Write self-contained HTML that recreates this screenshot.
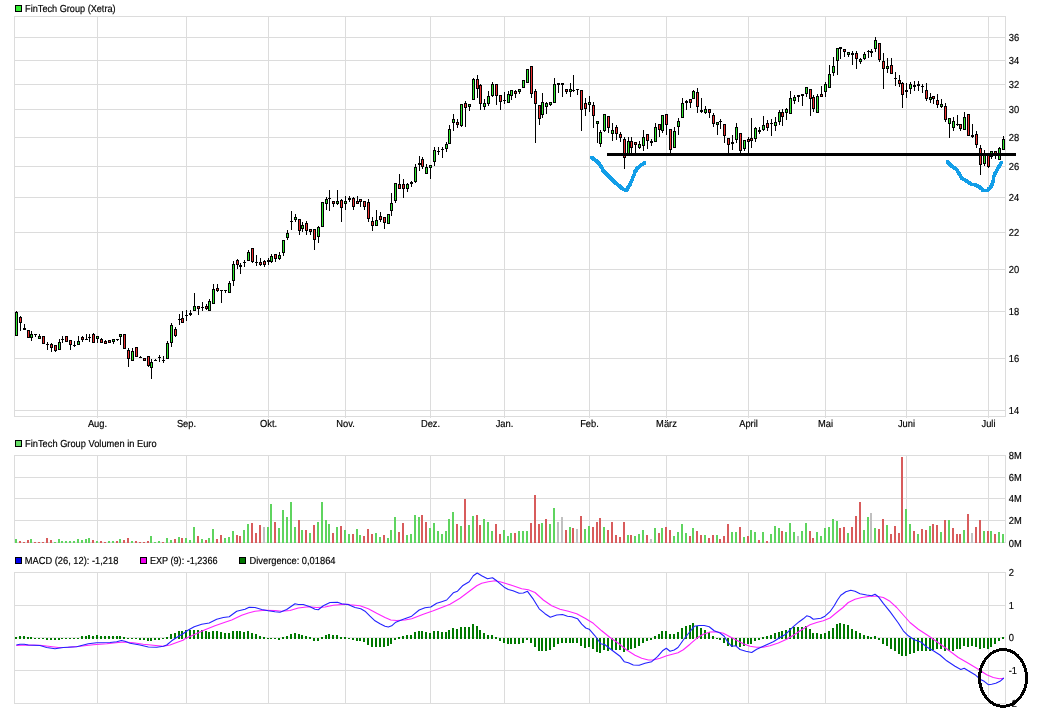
<!DOCTYPE html>
<html lang="de"><head><meta charset="utf-8"><title>FinTech Group (Xetra)</title>
<style>html,body{margin:0;padding:0;background:#fff}svg{display:block}text{stroke:#000;stroke-width:.18px}</style></head>
<body>
<svg width="1038" height="728" viewBox="0 0 1038 728" font-family="Liberation Sans, Arial, sans-serif" font-size="10.17px" fill="#000">
<rect width="1038" height="728" fill="#fff"/>
<g shape-rendering="crispEdges">
<rect x="14" y="37" width="992" height="1" fill="#dcdcdc"/>
<rect x="14" y="60" width="992" height="1" fill="#dcdcdc"/>
<rect x="14" y="84" width="992" height="1" fill="#dcdcdc"/>
<rect x="14" y="109" width="992" height="1" fill="#dcdcdc"/>
<rect x="14" y="137" width="992" height="1" fill="#dcdcdc"/>
<rect x="14" y="166" width="992" height="1" fill="#dcdcdc"/>
<rect x="14" y="197" width="992" height="1" fill="#dcdcdc"/>
<rect x="14" y="232" width="992" height="1" fill="#dcdcdc"/>
<rect x="14" y="269" width="992" height="1" fill="#dcdcdc"/>
<rect x="14" y="311" width="992" height="1" fill="#dcdcdc"/>
<rect x="14" y="358" width="992" height="1" fill="#dcdcdc"/>
<rect x="14" y="410" width="992" height="1" fill="#dcdcdc"/>
<rect x="14" y="16" width="992" height="1" fill="#dcdcdc"/>
<rect x="14" y="416" width="992" height="1" fill="#dcdcdc"/>
<rect x="97" y="16" width="1" height="402" fill="#dcdcdc"/>
<rect x="186" y="16" width="1" height="402" fill="#dcdcdc"/>
<rect x="268" y="16" width="1" height="402" fill="#dcdcdc"/>
<rect x="345" y="16" width="1" height="402" fill="#dcdcdc"/>
<rect x="430" y="16" width="1" height="402" fill="#dcdcdc"/>
<rect x="504" y="16" width="1" height="402" fill="#dcdcdc"/>
<rect x="589" y="16" width="1" height="402" fill="#dcdcdc"/>
<rect x="666" y="16" width="1" height="402" fill="#dcdcdc"/>
<rect x="748" y="16" width="1" height="402" fill="#dcdcdc"/>
<rect x="825" y="16" width="1" height="402" fill="#dcdcdc"/>
<rect x="906" y="16" width="1" height="402" fill="#dcdcdc"/>
<rect x="988" y="16" width="1" height="402" fill="#dcdcdc"/>
<rect x="14" y="16" width="1" height="401" fill="#dcdcdc"/>
<rect x="1005" y="16" width="1" height="401" fill="#dcdcdc"/>
<rect x="14" y="455" width="992" height="1" fill="#dcdcdc"/>
<rect x="14" y="477" width="992" height="1" fill="#dcdcdc"/>
<rect x="14" y="498" width="992" height="1" fill="#dcdcdc"/>
<rect x="14" y="520" width="992" height="1" fill="#dcdcdc"/>
<rect x="14" y="542" width="992" height="1" fill="#dcdcdc"/>
<rect x="97" y="455" width="1" height="88" fill="#dcdcdc"/>
<rect x="186" y="455" width="1" height="88" fill="#dcdcdc"/>
<rect x="268" y="455" width="1" height="88" fill="#dcdcdc"/>
<rect x="345" y="455" width="1" height="88" fill="#dcdcdc"/>
<rect x="430" y="455" width="1" height="88" fill="#dcdcdc"/>
<rect x="504" y="455" width="1" height="88" fill="#dcdcdc"/>
<rect x="589" y="455" width="1" height="88" fill="#dcdcdc"/>
<rect x="666" y="455" width="1" height="88" fill="#dcdcdc"/>
<rect x="748" y="455" width="1" height="88" fill="#dcdcdc"/>
<rect x="825" y="455" width="1" height="88" fill="#dcdcdc"/>
<rect x="906" y="455" width="1" height="88" fill="#dcdcdc"/>
<rect x="988" y="455" width="1" height="88" fill="#dcdcdc"/>
<rect x="14" y="455" width="1" height="88" fill="#dcdcdc"/>
<rect x="1005" y="455" width="1" height="88" fill="#dcdcdc"/>
<rect x="14" y="572" width="992" height="1" fill="#dcdcdc"/>
<rect x="14" y="605" width="992" height="1" fill="#dcdcdc"/>
<rect x="14" y="670" width="992" height="1" fill="#dcdcdc"/>
<rect x="14" y="703" width="992" height="1" fill="#dcdcdc"/>
<rect x="14" y="637" width="992" height="1" fill="#e6e6e6"/>
<rect x="97" y="572" width="1" height="132" fill="#dcdcdc"/>
<rect x="186" y="572" width="1" height="132" fill="#dcdcdc"/>
<rect x="268" y="572" width="1" height="132" fill="#dcdcdc"/>
<rect x="345" y="572" width="1" height="132" fill="#dcdcdc"/>
<rect x="430" y="572" width="1" height="132" fill="#dcdcdc"/>
<rect x="504" y="572" width="1" height="132" fill="#dcdcdc"/>
<rect x="589" y="572" width="1" height="132" fill="#dcdcdc"/>
<rect x="666" y="572" width="1" height="132" fill="#dcdcdc"/>
<rect x="748" y="572" width="1" height="132" fill="#dcdcdc"/>
<rect x="825" y="572" width="1" height="132" fill="#dcdcdc"/>
<rect x="906" y="572" width="1" height="132" fill="#dcdcdc"/>
<rect x="988" y="572" width="1" height="132" fill="#dcdcdc"/>
<rect x="14" y="572" width="1" height="132" fill="#dcdcdc"/>
<rect x="1005" y="572" width="1" height="132" fill="#dcdcdc"/>
</g>
<text transform="translate(1008.7 41) rotate(0.03) scale(0.92 1)" text-anchor="start">36</text>
<text transform="translate(1008.7 64) rotate(0.03) scale(0.92 1)" text-anchor="start">34</text>
<text transform="translate(1008.7 88) rotate(0.03) scale(0.92 1)" text-anchor="start">32</text>
<text transform="translate(1008.7 113) rotate(0.03) scale(0.92 1)" text-anchor="start">30</text>
<text transform="translate(1008.7 141) rotate(0.03) scale(0.92 1)" text-anchor="start">28</text>
<text transform="translate(1008.7 170) rotate(0.03) scale(0.92 1)" text-anchor="start">26</text>
<text transform="translate(1008.7 201) rotate(0.03) scale(0.92 1)" text-anchor="start">24</text>
<text transform="translate(1008.7 236) rotate(0.03) scale(0.92 1)" text-anchor="start">22</text>
<text transform="translate(1008.7 273) rotate(0.03) scale(0.92 1)" text-anchor="start">20</text>
<text transform="translate(1008.7 315) rotate(0.03) scale(0.92 1)" text-anchor="start">18</text>
<text transform="translate(1008.7 362) rotate(0.03) scale(0.92 1)" text-anchor="start">16</text>
<text transform="translate(1008.7 414) rotate(0.03) scale(0.92 1)" text-anchor="start">14</text>
<text transform="translate(1008.7 459) rotate(0.03) scale(0.92 1)" text-anchor="start">8M</text>
<text transform="translate(1008.7 481) rotate(0.03) scale(0.92 1)" text-anchor="start">6M</text>
<text transform="translate(1008.7 502) rotate(0.03) scale(0.92 1)" text-anchor="start">4M</text>
<text transform="translate(1008.7 524) rotate(0.03) scale(0.92 1)" text-anchor="start">2M</text>
<text transform="translate(1008.7 547) rotate(0.03) scale(0.92 1)" text-anchor="start">0M</text>
<text transform="translate(1008.7 576) rotate(0.03) scale(0.92 1)" text-anchor="start">2</text>
<text transform="translate(1008.7 609) rotate(0.03) scale(0.92 1)" text-anchor="start">1</text>
<text transform="translate(1008.7 641) rotate(0.03) scale(0.92 1)" text-anchor="start">0</text>
<text transform="translate(1008.7 674) rotate(0.03) scale(0.92 1)" text-anchor="start">-1</text>
<text transform="translate(1008.7 707) rotate(0.03) scale(0.92 1)" text-anchor="start">-2</text>
<text transform="translate(97.5 427) rotate(0.03) scale(0.92 1)" text-anchor="middle">Aug.</text>
<text transform="translate(186.5 427) rotate(0.03) scale(0.92 1)" text-anchor="middle">Sep.</text>
<text transform="translate(268.5 427) rotate(0.03) scale(0.92 1)" text-anchor="middle">Okt.</text>
<text transform="translate(345.5 427) rotate(0.03) scale(0.92 1)" text-anchor="middle">Nov.</text>
<text transform="translate(430.5 427) rotate(0.03) scale(0.92 1)" text-anchor="middle">Dez.</text>
<text transform="translate(504.5 427) rotate(0.03) scale(0.92 1)" text-anchor="middle">Jan.</text>
<text transform="translate(589.5 427) rotate(0.03) scale(0.92 1)" text-anchor="middle">Feb.</text>
<text transform="translate(666.5 427) rotate(0.03) scale(0.92 1)" text-anchor="middle">März</text>
<text transform="translate(748.5 427) rotate(0.03) scale(0.92 1)" text-anchor="middle">April</text>
<text transform="translate(825.5 427) rotate(0.03) scale(0.92 1)" text-anchor="middle">Mai</text>
<text transform="translate(906.5 427) rotate(0.03) scale(0.92 1)" text-anchor="middle">Juni</text>
<text transform="translate(988.5 427) rotate(0.03) scale(0.92 1)" text-anchor="middle">Juli</text>
<rect x="15.5" y="5.5" width="6" height="6" fill="#33ee33" stroke="#000" stroke-width="1" shape-rendering="crispEdges"/>
<text transform="translate(25.1 12) rotate(0.03)" text-anchor="start" textLength="90.5" lengthAdjust="spacingAndGlyphs">FinTech Group (Xetra)</text>
<rect x="15.5" y="440.5" width="6" height="6" fill="#66dd66" stroke="#000" stroke-width="1" shape-rendering="crispEdges"/>
<text transform="translate(25.1 447) rotate(0.03)" text-anchor="start" textLength="131.5" lengthAdjust="spacingAndGlyphs">FinTech Group Volumen in Euro</text>
<rect x="15.5" y="557.5" width="6" height="6" fill="#0000ee" stroke="#000" stroke-width="1" shape-rendering="crispEdges"/>
<text transform="translate(24.8 564) rotate(0.03)" text-anchor="start" textLength="93.5" lengthAdjust="spacingAndGlyphs">MACD (26, 12): -1,218</text>
<rect x="140.5" y="557.5" width="6" height="6" fill="#ee00ee" stroke="#000" stroke-width="1" shape-rendering="crispEdges"/>
<text transform="translate(150 564) rotate(0.03)" text-anchor="start" textLength="67.5" lengthAdjust="spacingAndGlyphs">EXP (9): -1,2366</text>
<rect x="239.5" y="557.5" width="6" height="6" fill="#007700" stroke="#000" stroke-width="1" shape-rendering="crispEdges"/>
<text transform="translate(249.5 564) rotate(0.03)" text-anchor="start" textLength="86" lengthAdjust="spacingAndGlyphs">Divergence: 0,01864</text>
<g shape-rendering="crispEdges">
<rect x="15" y="539" width="2" height="4" fill="#5fd45f"/>
<rect x="19" y="541" width="2" height="2" fill="#d85c5c"/>
<rect x="23" y="542" width="2" height="1" fill="#d85c5c"/>
<rect x="27" y="540" width="2" height="3" fill="#d85c5c"/>
<rect x="30" y="539" width="2" height="4" fill="#5fd45f"/>
<rect x="34" y="542" width="2" height="1" fill="#d85c5c"/>
<rect x="38" y="542" width="2" height="1" fill="#d85c5c"/>
<rect x="42" y="542" width="2" height="1" fill="#d85c5c"/>
<rect x="46" y="538" width="2" height="5" fill="#d85c5c"/>
<rect x="50" y="540" width="2" height="3" fill="#d85c5c"/>
<rect x="54" y="542" width="2" height="1" fill="#5fd45f"/>
<rect x="58" y="539" width="2" height="4" fill="#5fd45f"/>
<rect x="61" y="541" width="2" height="2" fill="#5fd45f"/>
<rect x="65" y="541" width="2" height="2" fill="#5fd45f"/>
<rect x="69" y="541" width="2" height="2" fill="#5fd45f"/>
<rect x="73" y="541" width="2" height="2" fill="#5fd45f"/>
<rect x="77" y="539" width="2" height="4" fill="#5fd45f"/>
<rect x="81" y="540" width="2" height="3" fill="#5fd45f"/>
<rect x="85" y="539" width="2" height="4" fill="#5fd45f"/>
<rect x="88" y="538" width="2" height="5" fill="#5fd45f"/>
<rect x="92" y="540" width="2" height="3" fill="#d85c5c"/>
<rect x="96" y="541" width="2" height="2" fill="#5fd45f"/>
<rect x="100" y="541" width="2" height="2" fill="#d85c5c"/>
<rect x="104" y="542" width="2" height="1" fill="#d85c5c"/>
<rect x="108" y="541" width="2" height="2" fill="#5fd45f"/>
<rect x="112" y="541" width="2" height="2" fill="#5fd45f"/>
<rect x="116" y="541" width="2" height="2" fill="#d85c5c"/>
<rect x="119" y="539" width="2" height="4" fill="#5fd45f"/>
<rect x="123" y="540" width="2" height="3" fill="#d85c5c"/>
<rect x="127" y="538" width="2" height="5" fill="#d85c5c"/>
<rect x="131" y="541" width="2" height="2" fill="#5fd45f"/>
<rect x="135" y="541" width="2" height="2" fill="#d85c5c"/>
<rect x="139" y="542" width="2" height="1" fill="#d85c5c"/>
<rect x="143" y="542" width="2" height="1" fill="#d85c5c"/>
<rect x="147" y="541" width="2" height="2" fill="#d85c5c"/>
<rect x="150" y="536" width="2" height="7" fill="#5fd45f"/>
<rect x="154" y="542" width="2" height="1" fill="#5fd45f"/>
<rect x="158" y="541" width="2" height="2" fill="#5fd45f"/>
<rect x="162" y="542" width="2" height="1" fill="#d85c5c"/>
<rect x="166" y="538" width="2" height="5" fill="#5fd45f"/>
<rect x="170" y="540" width="2" height="3" fill="#5fd45f"/>
<rect x="174" y="539" width="2" height="4" fill="#d85c5c"/>
<rect x="178" y="537" width="2" height="6" fill="#5fd45f"/>
<rect x="181" y="538" width="2" height="5" fill="#d85c5c"/>
<rect x="185" y="538" width="2" height="5" fill="#5fd45f"/>
<rect x="189" y="540" width="2" height="3" fill="#5fd45f"/>
<rect x="193" y="527" width="2" height="16" fill="#5fd45f"/>
<rect x="197" y="536" width="2" height="7" fill="#d85c5c"/>
<rect x="201" y="539" width="2" height="4" fill="#5fd45f"/>
<rect x="205" y="540" width="2" height="3" fill="#d85c5c"/>
<rect x="208" y="538" width="2" height="5" fill="#5fd45f"/>
<rect x="212" y="529" width="2" height="14" fill="#5fd45f"/>
<rect x="216" y="539" width="2" height="4" fill="#d85c5c"/>
<rect x="220" y="535" width="2" height="8" fill="#d85c5c"/>
<rect x="224" y="538" width="2" height="5" fill="#5fd45f"/>
<rect x="228" y="537" width="2" height="6" fill="#5fd45f"/>
<rect x="232" y="531" width="2" height="12" fill="#5fd45f"/>
<rect x="236" y="535" width="2" height="8" fill="#d85c5c"/>
<rect x="239" y="536" width="2" height="7" fill="#d85c5c"/>
<rect x="243" y="530" width="2" height="13" fill="#5fd45f"/>
<rect x="247" y="524" width="2" height="19" fill="#5fd45f"/>
<rect x="251" y="523" width="2" height="20" fill="#d85c5c"/>
<rect x="255" y="533" width="2" height="10" fill="#d85c5c"/>
<rect x="259" y="525" width="2" height="18" fill="#d85c5c"/>
<rect x="263" y="527" width="2" height="16" fill="#c0c0c0"/>
<rect x="267" y="527" width="2" height="16" fill="#5fd45f"/>
<rect x="270" y="504" width="2" height="39" fill="#5fd45f"/>
<rect x="274" y="522" width="2" height="21" fill="#d85c5c"/>
<rect x="278" y="528" width="2" height="15" fill="#5fd45f"/>
<rect x="282" y="510" width="2" height="33" fill="#5fd45f"/>
<rect x="286" y="517" width="2" height="26" fill="#5fd45f"/>
<rect x="290" y="502" width="2" height="41" fill="#5fd45f"/>
<rect x="294" y="527" width="2" height="16" fill="#5fd45f"/>
<rect x="298" y="520" width="2" height="23" fill="#d85c5c"/>
<rect x="301" y="530" width="2" height="13" fill="#5fd45f"/>
<rect x="305" y="530" width="2" height="13" fill="#d85c5c"/>
<rect x="309" y="533" width="2" height="10" fill="#5fd45f"/>
<rect x="313" y="525" width="2" height="18" fill="#d85c5c"/>
<rect x="317" y="522" width="2" height="21" fill="#5fd45f"/>
<rect x="321" y="502" width="2" height="41" fill="#5fd45f"/>
<rect x="325" y="520" width="2" height="23" fill="#5fd45f"/>
<rect x="328" y="524" width="2" height="19" fill="#5fd45f"/>
<rect x="332" y="533" width="2" height="10" fill="#d85c5c"/>
<rect x="336" y="527" width="2" height="16" fill="#5fd45f"/>
<rect x="340" y="526" width="2" height="17" fill="#d85c5c"/>
<rect x="344" y="530" width="2" height="13" fill="#5fd45f"/>
<rect x="348" y="534" width="2" height="9" fill="#5fd45f"/>
<rect x="352" y="534" width="2" height="9" fill="#d85c5c"/>
<rect x="356" y="529" width="2" height="14" fill="#5fd45f"/>
<rect x="359" y="535" width="2" height="8" fill="#5fd45f"/>
<rect x="363" y="536" width="2" height="7" fill="#d85c5c"/>
<rect x="367" y="529" width="2" height="14" fill="#d85c5c"/>
<rect x="371" y="534" width="2" height="9" fill="#d85c5c"/>
<rect x="375" y="533" width="2" height="10" fill="#5fd45f"/>
<rect x="379" y="537" width="2" height="6" fill="#5fd45f"/>
<rect x="383" y="535" width="2" height="8" fill="#d85c5c"/>
<rect x="387" y="538" width="2" height="5" fill="#5fd45f"/>
<rect x="390" y="530" width="2" height="13" fill="#5fd45f"/>
<rect x="394" y="517" width="2" height="26" fill="#5fd45f"/>
<rect x="398" y="532" width="2" height="11" fill="#d85c5c"/>
<rect x="402" y="523" width="2" height="20" fill="#d85c5c"/>
<rect x="406" y="535" width="2" height="8" fill="#5fd45f"/>
<rect x="410" y="534" width="2" height="9" fill="#5fd45f"/>
<rect x="414" y="515" width="2" height="28" fill="#5fd45f"/>
<rect x="418" y="517" width="2" height="26" fill="#5fd45f"/>
<rect x="421" y="515" width="2" height="28" fill="#d85c5c"/>
<rect x="425" y="522" width="2" height="21" fill="#d85c5c"/>
<rect x="429" y="528" width="2" height="15" fill="#5fd45f"/>
<rect x="433" y="523" width="2" height="20" fill="#5fd45f"/>
<rect x="437" y="531" width="2" height="12" fill="#5fd45f"/>
<rect x="441" y="534" width="2" height="9" fill="#5fd45f"/>
<rect x="445" y="531" width="2" height="12" fill="#5fd45f"/>
<rect x="448" y="519" width="2" height="24" fill="#5fd45f"/>
<rect x="452" y="512" width="2" height="31" fill="#5fd45f"/>
<rect x="456" y="524" width="2" height="19" fill="#d85c5c"/>
<rect x="460" y="526" width="2" height="17" fill="#5fd45f"/>
<rect x="464" y="499" width="2" height="44" fill="#d85c5c"/>
<rect x="468" y="525" width="2" height="18" fill="#5fd45f"/>
<rect x="472" y="516" width="2" height="27" fill="#5fd45f"/>
<rect x="476" y="515" width="2" height="28" fill="#d85c5c"/>
<rect x="479" y="525" width="2" height="18" fill="#d85c5c"/>
<rect x="483" y="519" width="2" height="24" fill="#5fd45f"/>
<rect x="487" y="522" width="2" height="21" fill="#5fd45f"/>
<rect x="491" y="531" width="2" height="12" fill="#5fd45f"/>
<rect x="495" y="524" width="2" height="19" fill="#d85c5c"/>
<rect x="499" y="534" width="2" height="9" fill="#d85c5c"/>
<rect x="503" y="530" width="2" height="13" fill="#5fd45f"/>
<rect x="507" y="536" width="2" height="7" fill="#5fd45f"/>
<rect x="510" y="533" width="2" height="10" fill="#5fd45f"/>
<rect x="514" y="533" width="2" height="10" fill="#d85c5c"/>
<rect x="518" y="531" width="2" height="12" fill="#5fd45f"/>
<rect x="522" y="531" width="2" height="12" fill="#5fd45f"/>
<rect x="526" y="531" width="2" height="12" fill="#5fd45f"/>
<rect x="530" y="523" width="2" height="20" fill="#d85c5c"/>
<rect x="534" y="495" width="2" height="48" fill="#d85c5c"/>
<rect x="538" y="524" width="2" height="19" fill="#d85c5c"/>
<rect x="541" y="523" width="2" height="20" fill="#5fd45f"/>
<rect x="545" y="519" width="2" height="24" fill="#d85c5c"/>
<rect x="549" y="524" width="2" height="19" fill="#5fd45f"/>
<rect x="553" y="508" width="2" height="35" fill="#5fd45f"/>
<rect x="557" y="522" width="2" height="21" fill="#c0c0c0"/>
<rect x="561" y="517" width="2" height="26" fill="#c0c0c0"/>
<rect x="565" y="530" width="2" height="13" fill="#d85c5c"/>
<rect x="569" y="527" width="2" height="16" fill="#5fd45f"/>
<rect x="572" y="528" width="2" height="15" fill="#d85c5c"/>
<rect x="576" y="529" width="2" height="14" fill="#c0c0c0"/>
<rect x="580" y="516" width="2" height="27" fill="#d85c5c"/>
<rect x="584" y="529" width="2" height="14" fill="#5fd45f"/>
<rect x="588" y="526" width="2" height="17" fill="#5fd45f"/>
<rect x="592" y="527" width="2" height="16" fill="#d85c5c"/>
<rect x="596" y="522" width="2" height="21" fill="#d85c5c"/>
<rect x="599" y="518" width="2" height="25" fill="#d85c5c"/>
<rect x="603" y="527" width="2" height="16" fill="#5fd45f"/>
<rect x="607" y="530" width="2" height="13" fill="#d85c5c"/>
<rect x="611" y="522" width="2" height="21" fill="#d85c5c"/>
<rect x="615" y="535" width="2" height="8" fill="#d85c5c"/>
<rect x="619" y="537" width="2" height="6" fill="#d85c5c"/>
<rect x="623" y="522" width="2" height="21" fill="#d85c5c"/>
<rect x="627" y="535" width="2" height="8" fill="#5fd45f"/>
<rect x="630" y="535" width="2" height="8" fill="#d85c5c"/>
<rect x="634" y="536" width="2" height="7" fill="#5fd45f"/>
<rect x="638" y="534" width="2" height="9" fill="#5fd45f"/>
<rect x="642" y="530" width="2" height="13" fill="#5fd45f"/>
<rect x="646" y="535" width="2" height="8" fill="#d85c5c"/>
<rect x="650" y="539" width="2" height="4" fill="#c0c0c0"/>
<rect x="654" y="528" width="2" height="15" fill="#5fd45f"/>
<rect x="658" y="533" width="2" height="10" fill="#d85c5c"/>
<rect x="661" y="528" width="2" height="15" fill="#5fd45f"/>
<rect x="665" y="527" width="2" height="16" fill="#d85c5c"/>
<rect x="669" y="530" width="2" height="13" fill="#d85c5c"/>
<rect x="673" y="536" width="2" height="7" fill="#5fd45f"/>
<rect x="677" y="532" width="2" height="11" fill="#5fd45f"/>
<rect x="681" y="524" width="2" height="19" fill="#5fd45f"/>
<rect x="685" y="533" width="2" height="10" fill="#5fd45f"/>
<rect x="689" y="536" width="2" height="7" fill="#d85c5c"/>
<rect x="692" y="528" width="2" height="15" fill="#5fd45f"/>
<rect x="696" y="531" width="2" height="12" fill="#d85c5c"/>
<rect x="700" y="535" width="2" height="8" fill="#d85c5c"/>
<rect x="704" y="535" width="2" height="8" fill="#5fd45f"/>
<rect x="708" y="538" width="2" height="5" fill="#d85c5c"/>
<rect x="712" y="535" width="2" height="8" fill="#d85c5c"/>
<rect x="716" y="535" width="2" height="8" fill="#5fd45f"/>
<rect x="719" y="539" width="2" height="4" fill="#d85c5c"/>
<rect x="723" y="536" width="2" height="7" fill="#d85c5c"/>
<rect x="727" y="524" width="2" height="19" fill="#d85c5c"/>
<rect x="731" y="532" width="2" height="11" fill="#5fd45f"/>
<rect x="735" y="532" width="2" height="11" fill="#5fd45f"/>
<rect x="739" y="527" width="2" height="16" fill="#d85c5c"/>
<rect x="743" y="537" width="2" height="6" fill="#5fd45f"/>
<rect x="747" y="536" width="2" height="7" fill="#d85c5c"/>
<rect x="750" y="530" width="2" height="13" fill="#5fd45f"/>
<rect x="754" y="532" width="2" height="11" fill="#5fd45f"/>
<rect x="758" y="540" width="2" height="3" fill="#d85c5c"/>
<rect x="762" y="532" width="2" height="11" fill="#5fd45f"/>
<rect x="766" y="541" width="2" height="2" fill="#d85c5c"/>
<rect x="770" y="534" width="2" height="9" fill="#5fd45f"/>
<rect x="774" y="526" width="2" height="17" fill="#5fd45f"/>
<rect x="778" y="528" width="2" height="15" fill="#5fd45f"/>
<rect x="781" y="531" width="2" height="12" fill="#d85c5c"/>
<rect x="785" y="532" width="2" height="11" fill="#5fd45f"/>
<rect x="789" y="523" width="2" height="20" fill="#5fd45f"/>
<rect x="793" y="532" width="2" height="11" fill="#5fd45f"/>
<rect x="797" y="536" width="2" height="7" fill="#c0c0c0"/>
<rect x="801" y="531" width="2" height="12" fill="#5fd45f"/>
<rect x="805" y="523" width="2" height="20" fill="#5fd45f"/>
<rect x="809" y="531" width="2" height="12" fill="#d85c5c"/>
<rect x="812" y="538" width="2" height="5" fill="#d85c5c"/>
<rect x="816" y="532" width="2" height="11" fill="#5fd45f"/>
<rect x="820" y="536" width="2" height="7" fill="#5fd45f"/>
<rect x="824" y="528" width="2" height="15" fill="#5fd45f"/>
<rect x="828" y="527" width="2" height="16" fill="#5fd45f"/>
<rect x="832" y="519" width="2" height="24" fill="#5fd45f"/>
<rect x="836" y="521" width="2" height="22" fill="#5fd45f"/>
<rect x="839" y="528" width="2" height="15" fill="#d85c5c"/>
<rect x="843" y="527" width="2" height="16" fill="#d85c5c"/>
<rect x="847" y="533" width="2" height="10" fill="#5fd45f"/>
<rect x="851" y="527" width="2" height="16" fill="#d85c5c"/>
<rect x="855" y="516" width="2" height="27" fill="#d85c5c"/>
<rect x="859" y="502" width="2" height="41" fill="#d85c5c"/>
<rect x="863" y="530" width="2" height="13" fill="#5fd45f"/>
<rect x="867" y="517" width="2" height="26" fill="#5fd45f"/>
<rect x="870" y="513" width="2" height="30" fill="#c0c0c0"/>
<rect x="874" y="528" width="2" height="15" fill="#5fd45f"/>
<rect x="878" y="529" width="2" height="14" fill="#d85c5c"/>
<rect x="882" y="519" width="2" height="24" fill="#d85c5c"/>
<rect x="886" y="525" width="2" height="18" fill="#5fd45f"/>
<rect x="890" y="534" width="2" height="9" fill="#d85c5c"/>
<rect x="894" y="526" width="2" height="17" fill="#d85c5c"/>
<rect x="898" y="533" width="2" height="10" fill="#d85c5c"/>
<rect x="901" y="457" width="2" height="86" fill="#d85c5c"/>
<rect x="905" y="509" width="2" height="34" fill="#5fd45f"/>
<rect x="909" y="524" width="2" height="19" fill="#5fd45f"/>
<rect x="913" y="531" width="2" height="12" fill="#d85c5c"/>
<rect x="917" y="534" width="2" height="9" fill="#5fd45f"/>
<rect x="921" y="529" width="2" height="14" fill="#d85c5c"/>
<rect x="925" y="530" width="2" height="13" fill="#d85c5c"/>
<rect x="929" y="526" width="2" height="17" fill="#5fd45f"/>
<rect x="932" y="524" width="2" height="19" fill="#d85c5c"/>
<rect x="936" y="525" width="2" height="18" fill="#d85c5c"/>
<rect x="940" y="532" width="2" height="11" fill="#5fd45f"/>
<rect x="944" y="520" width="2" height="23" fill="#d85c5c"/>
<rect x="948" y="520" width="2" height="23" fill="#5fd45f"/>
<rect x="952" y="528" width="2" height="15" fill="#d85c5c"/>
<rect x="956" y="534" width="2" height="9" fill="#d85c5c"/>
<rect x="959" y="534" width="2" height="9" fill="#d85c5c"/>
<rect x="963" y="530" width="2" height="13" fill="#5fd45f"/>
<rect x="967" y="514" width="2" height="29" fill="#d85c5c"/>
<rect x="971" y="533" width="2" height="10" fill="#c0c0c0"/>
<rect x="975" y="527" width="2" height="16" fill="#d85c5c"/>
<rect x="979" y="520" width="2" height="23" fill="#d85c5c"/>
<rect x="983" y="531" width="2" height="12" fill="#5fd45f"/>
<rect x="987" y="531" width="2" height="12" fill="#d85c5c"/>
<rect x="990" y="531" width="2" height="12" fill="#5fd45f"/>
<rect x="994" y="534" width="2" height="9" fill="#d85c5c"/>
<rect x="998" y="532" width="2" height="11" fill="#5fd45f"/>
<rect x="1002" y="534" width="2" height="9" fill="#5fd45f"/>
</g>
<g shape-rendering="crispEdges" fill="#007800">
<rect x="15" y="637" width="2" height="2"/>
<rect x="19" y="636" width="2" height="3"/>
<rect x="23" y="636" width="2" height="3"/>
<rect x="27" y="637" width="2" height="2"/>
<rect x="30" y="637" width="2" height="2"/>
<rect x="34" y="638" width="2" height="1"/>
<rect x="38" y="638" width="2" height="1"/>
<rect x="42" y="638" width="2" height="1"/>
<rect x="46" y="638" width="2" height="2"/>
<rect x="50" y="638" width="2" height="2"/>
<rect x="54" y="638" width="2" height="2"/>
<rect x="58" y="638" width="2" height="2"/>
<rect x="61" y="638" width="2" height="1"/>
<rect x="65" y="638" width="2" height="1"/>
<rect x="69" y="638" width="2" height="1"/>
<rect x="73" y="638" width="2" height="1"/>
<rect x="77" y="638" width="2" height="1"/>
<rect x="81" y="636" width="2" height="3"/>
<rect x="85" y="636" width="2" height="3"/>
<rect x="88" y="635" width="2" height="4"/>
<rect x="92" y="636" width="2" height="3"/>
<rect x="96" y="635" width="2" height="4"/>
<rect x="100" y="636" width="2" height="3"/>
<rect x="104" y="636" width="2" height="3"/>
<rect x="108" y="636" width="2" height="3"/>
<rect x="112" y="636" width="2" height="3"/>
<rect x="116" y="636" width="2" height="3"/>
<rect x="119" y="636" width="2" height="3"/>
<rect x="123" y="637" width="2" height="2"/>
<rect x="127" y="638" width="2" height="1"/>
<rect x="131" y="638" width="2" height="1"/>
<rect x="135" y="638" width="2" height="1"/>
<rect x="139" y="638" width="2" height="2"/>
<rect x="143" y="638" width="2" height="2"/>
<rect x="147" y="638" width="2" height="3"/>
<rect x="150" y="638" width="2" height="3"/>
<rect x="154" y="638" width="2" height="2"/>
<rect x="158" y="638" width="2" height="2"/>
<rect x="162" y="638" width="2" height="1"/>
<rect x="166" y="637" width="2" height="2"/>
<rect x="170" y="634" width="2" height="5"/>
<rect x="174" y="633" width="2" height="6"/>
<rect x="178" y="631" width="2" height="8"/>
<rect x="181" y="631" width="2" height="8"/>
<rect x="185" y="630" width="2" height="9"/>
<rect x="189" y="630" width="2" height="9"/>
<rect x="193" y="630" width="2" height="9"/>
<rect x="197" y="630" width="2" height="9"/>
<rect x="201" y="630" width="2" height="9"/>
<rect x="205" y="631" width="2" height="8"/>
<rect x="208" y="632" width="2" height="7"/>
<rect x="212" y="631" width="2" height="8"/>
<rect x="216" y="631" width="2" height="8"/>
<rect x="220" y="632" width="2" height="7"/>
<rect x="224" y="633" width="2" height="6"/>
<rect x="228" y="633" width="2" height="6"/>
<rect x="232" y="631" width="2" height="8"/>
<rect x="236" y="631" width="2" height="8"/>
<rect x="239" y="631" width="2" height="8"/>
<rect x="243" y="632" width="2" height="7"/>
<rect x="247" y="631" width="2" height="8"/>
<rect x="251" y="633" width="2" height="6"/>
<rect x="255" y="634" width="2" height="5"/>
<rect x="259" y="636" width="2" height="3"/>
<rect x="263" y="637" width="2" height="2"/>
<rect x="267" y="638" width="2" height="1"/>
<rect x="270" y="638" width="2" height="1"/>
<rect x="274" y="638" width="2" height="1"/>
<rect x="278" y="638" width="2" height="2"/>
<rect x="282" y="637" width="2" height="2"/>
<rect x="286" y="636" width="2" height="3"/>
<rect x="290" y="634" width="2" height="5"/>
<rect x="294" y="633" width="2" height="6"/>
<rect x="298" y="634" width="2" height="5"/>
<rect x="301" y="635" width="2" height="4"/>
<rect x="305" y="636" width="2" height="3"/>
<rect x="309" y="637" width="2" height="2"/>
<rect x="313" y="638" width="2" height="3"/>
<rect x="317" y="638" width="2" height="3"/>
<rect x="321" y="637" width="2" height="2"/>
<rect x="325" y="635" width="2" height="4"/>
<rect x="328" y="634" width="2" height="5"/>
<rect x="332" y="635" width="2" height="4"/>
<rect x="336" y="635" width="2" height="4"/>
<rect x="340" y="637" width="2" height="2"/>
<rect x="344" y="637" width="2" height="2"/>
<rect x="348" y="638" width="2" height="1"/>
<rect x="352" y="638" width="2" height="2"/>
<rect x="356" y="638" width="2" height="3"/>
<rect x="359" y="638" width="2" height="3"/>
<rect x="363" y="638" width="2" height="4"/>
<rect x="367" y="638" width="2" height="7"/>
<rect x="371" y="638" width="2" height="9"/>
<rect x="375" y="638" width="2" height="9"/>
<rect x="379" y="638" width="2" height="9"/>
<rect x="383" y="638" width="2" height="9"/>
<rect x="387" y="638" width="2" height="8"/>
<rect x="390" y="638" width="2" height="6"/>
<rect x="394" y="638" width="2" height="2"/>
<rect x="398" y="637" width="2" height="2"/>
<rect x="402" y="636" width="2" height="3"/>
<rect x="406" y="635" width="2" height="4"/>
<rect x="410" y="635" width="2" height="4"/>
<rect x="414" y="632" width="2" height="7"/>
<rect x="418" y="631" width="2" height="8"/>
<rect x="421" y="631" width="2" height="8"/>
<rect x="425" y="632" width="2" height="7"/>
<rect x="429" y="633" width="2" height="6"/>
<rect x="433" y="631" width="2" height="8"/>
<rect x="437" y="631" width="2" height="8"/>
<rect x="441" y="632" width="2" height="7"/>
<rect x="445" y="632" width="2" height="7"/>
<rect x="448" y="630" width="2" height="9"/>
<rect x="452" y="628" width="2" height="11"/>
<rect x="456" y="629" width="2" height="10"/>
<rect x="460" y="627" width="2" height="12"/>
<rect x="464" y="627" width="2" height="12"/>
<rect x="468" y="627" width="2" height="12"/>
<rect x="472" y="624" width="2" height="15"/>
<rect x="476" y="626" width="2" height="13"/>
<rect x="479" y="630" width="2" height="9"/>
<rect x="483" y="633" width="2" height="6"/>
<rect x="487" y="635" width="2" height="4"/>
<rect x="491" y="635" width="2" height="4"/>
<rect x="495" y="637" width="2" height="2"/>
<rect x="499" y="638" width="2" height="3"/>
<rect x="503" y="638" width="2" height="5"/>
<rect x="507" y="638" width="2" height="6"/>
<rect x="510" y="638" width="2" height="6"/>
<rect x="514" y="638" width="2" height="6"/>
<rect x="518" y="638" width="2" height="6"/>
<rect x="522" y="638" width="2" height="5"/>
<rect x="526" y="638" width="2" height="2"/>
<rect x="530" y="638" width="2" height="5"/>
<rect x="534" y="638" width="2" height="9"/>
<rect x="538" y="638" width="2" height="13"/>
<rect x="541" y="638" width="2" height="13"/>
<rect x="545" y="638" width="2" height="13"/>
<rect x="549" y="638" width="2" height="12"/>
<rect x="553" y="638" width="2" height="9"/>
<rect x="557" y="638" width="2" height="6"/>
<rect x="561" y="638" width="2" height="5"/>
<rect x="565" y="638" width="2" height="5"/>
<rect x="569" y="638" width="2" height="5"/>
<rect x="572" y="638" width="2" height="5"/>
<rect x="576" y="638" width="2" height="5"/>
<rect x="580" y="638" width="2" height="8"/>
<rect x="584" y="638" width="2" height="10"/>
<rect x="588" y="638" width="2" height="9"/>
<rect x="592" y="638" width="2" height="11"/>
<rect x="596" y="638" width="2" height="14"/>
<rect x="599" y="638" width="2" height="15"/>
<rect x="603" y="638" width="2" height="12"/>
<rect x="607" y="638" width="2" height="13"/>
<rect x="611" y="638" width="2" height="12"/>
<rect x="615" y="638" width="2" height="12"/>
<rect x="619" y="638" width="2" height="12"/>
<rect x="623" y="638" width="2" height="14"/>
<rect x="627" y="638" width="2" height="12"/>
<rect x="630" y="638" width="2" height="11"/>
<rect x="634" y="638" width="2" height="10"/>
<rect x="638" y="638" width="2" height="8"/>
<rect x="642" y="638" width="2" height="5"/>
<rect x="646" y="638" width="2" height="3"/>
<rect x="650" y="638" width="2" height="2"/>
<rect x="654" y="636" width="2" height="3"/>
<rect x="658" y="634" width="2" height="5"/>
<rect x="661" y="631" width="2" height="8"/>
<rect x="665" y="631" width="2" height="8"/>
<rect x="669" y="634" width="2" height="5"/>
<rect x="673" y="634" width="2" height="5"/>
<rect x="677" y="632" width="2" height="7"/>
<rect x="681" y="628" width="2" height="11"/>
<rect x="685" y="626" width="2" height="13"/>
<rect x="689" y="625" width="2" height="14"/>
<rect x="692" y="623" width="2" height="16"/>
<rect x="696" y="626" width="2" height="13"/>
<rect x="700" y="628" width="2" height="11"/>
<rect x="704" y="630" width="2" height="9"/>
<rect x="708" y="632" width="2" height="7"/>
<rect x="712" y="636" width="2" height="3"/>
<rect x="716" y="638" width="2" height="1"/>
<rect x="719" y="638" width="2" height="2"/>
<rect x="723" y="638" width="2" height="5"/>
<rect x="727" y="638" width="2" height="8"/>
<rect x="731" y="638" width="2" height="9"/>
<rect x="735" y="638" width="2" height="8"/>
<rect x="739" y="638" width="2" height="9"/>
<rect x="743" y="638" width="2" height="8"/>
<rect x="747" y="638" width="2" height="6"/>
<rect x="750" y="638" width="2" height="6"/>
<rect x="754" y="638" width="2" height="3"/>
<rect x="758" y="638" width="2" height="2"/>
<rect x="762" y="637" width="2" height="2"/>
<rect x="766" y="636" width="2" height="3"/>
<rect x="770" y="635" width="2" height="4"/>
<rect x="774" y="633" width="2" height="6"/>
<rect x="778" y="632" width="2" height="7"/>
<rect x="781" y="631" width="2" height="8"/>
<rect x="785" y="630" width="2" height="9"/>
<rect x="789" y="628" width="2" height="11"/>
<rect x="793" y="627" width="2" height="12"/>
<rect x="797" y="627" width="2" height="12"/>
<rect x="801" y="627" width="2" height="12"/>
<rect x="805" y="626" width="2" height="13"/>
<rect x="809" y="629" width="2" height="10"/>
<rect x="812" y="633" width="2" height="6"/>
<rect x="816" y="633" width="2" height="6"/>
<rect x="820" y="634" width="2" height="5"/>
<rect x="824" y="633" width="2" height="6"/>
<rect x="828" y="631" width="2" height="8"/>
<rect x="832" y="628" width="2" height="11"/>
<rect x="836" y="624" width="2" height="15"/>
<rect x="839" y="623" width="2" height="16"/>
<rect x="843" y="624" width="2" height="15"/>
<rect x="847" y="625" width="2" height="14"/>
<rect x="851" y="629" width="2" height="10"/>
<rect x="855" y="631" width="2" height="8"/>
<rect x="859" y="633" width="2" height="6"/>
<rect x="863" y="635" width="2" height="4"/>
<rect x="867" y="636" width="2" height="3"/>
<rect x="870" y="637" width="2" height="2"/>
<rect x="874" y="636" width="2" height="3"/>
<rect x="878" y="638" width="2" height="2"/>
<rect x="882" y="638" width="2" height="6"/>
<rect x="886" y="638" width="2" height="8"/>
<rect x="890" y="638" width="2" height="11"/>
<rect x="894" y="638" width="2" height="13"/>
<rect x="898" y="638" width="2" height="16"/>
<rect x="901" y="638" width="2" height="18"/>
<rect x="905" y="638" width="2" height="18"/>
<rect x="909" y="638" width="2" height="16"/>
<rect x="913" y="638" width="2" height="15"/>
<rect x="917" y="638" width="2" height="13"/>
<rect x="921" y="638" width="2" height="13"/>
<rect x="925" y="638" width="2" height="13"/>
<rect x="929" y="638" width="2" height="13"/>
<rect x="932" y="638" width="2" height="12"/>
<rect x="936" y="638" width="2" height="11"/>
<rect x="940" y="638" width="2" height="11"/>
<rect x="944" y="638" width="2" height="13"/>
<rect x="948" y="638" width="2" height="13"/>
<rect x="952" y="638" width="2" height="13"/>
<rect x="956" y="638" width="2" height="11"/>
<rect x="959" y="638" width="2" height="11"/>
<rect x="963" y="638" width="2" height="8"/>
<rect x="967" y="638" width="2" height="9"/>
<rect x="971" y="638" width="2" height="8"/>
<rect x="975" y="638" width="2" height="9"/>
<rect x="979" y="638" width="2" height="11"/>
<rect x="983" y="638" width="2" height="10"/>
<rect x="987" y="638" width="2" height="11"/>
<rect x="990" y="638" width="2" height="9"/>
<rect x="994" y="638" width="2" height="6"/>
<rect x="998" y="638" width="2" height="3"/>
<rect x="1002" y="637" width="2" height="2"/>
</g>
<polyline points="16.3,645.5 26.7,645.0 40.0,645.3 48.3,646.3 58.3,647.5 68.3,647.2 80.0,646.3 93.3,644.7 106.7,643.7 118.3,642.5 125.0,642.0 133.3,642.8 143.3,644.2 153.3,645.3 163.3,646.2 170.0,645.0 176.7,642.5 183.0,640.3 185.0,638.7 195.0,634.2 205.0,629.7 215.0,625.8 225.0,622.2 231.7,620.0 241.7,615.3 248.3,613.0 255.0,611.2 265.0,610.3 275.0,610.5 281.7,611.2 290.0,610.5 298.3,608.0 308.3,606.7 316.7,607.5 325.0,607.0 333.3,605.3 341.7,604.5 348.0,604.2 350.0,604.7 360.0,605.8 368.3,608.7 376.7,613.3 385.0,617.5 390.8,620.0 396.7,620.5 405.0,620.0 411.7,618.7 423.3,614.2 433.3,610.8 441.7,607.5 450.0,604.2 460.0,598.3 470.0,590.8 476.7,585.8 481.7,583.3 488.3,581.7 495.0,580.8 500.0,581.7 506.7,583.7 513.0,585.8 521.7,588.7 528.3,589.7 535.0,592.5 543.3,600.0 551.7,605.8 560.0,609.2 568.3,611.3 576.7,613.7 585.0,618.3 593.3,623.3 601.7,630.8 610.0,637.5 618.3,643.3 626.7,650.0 635.0,655.3 641.7,658.3 648.3,660.0 653.3,660.0 660.0,658.3 666.7,655.8 678.0,652.8 683.3,649.7 690.0,644.2 696.7,638.3 703.3,634.2 710.0,632.0 716.7,631.7 723.3,633.3 730.0,636.7 736.7,640.3 743.3,643.7 750.0,646.2 756.7,647.2 763.3,647.2 770.0,645.8 778.3,643.0 786.7,639.2 795.0,634.2 803.3,628.7 810.0,624.7 816.7,622.5 823.3,620.8 830.0,618.0 836.7,612.5 843.0,607.5 848.3,602.5 855.0,599.2 861.7,597.5 870.0,596.3 876.7,596.2 883.3,597.5 890.0,601.3 896.7,607.5 903.3,615.0 910.0,622.5 918.3,629.2 928.3,635.8 938.3,642.8 948.3,650.0 958.3,657.5 968.3,663.3 978.3,669.2 986.7,674.7 993.3,677.5 999.2,678.8 1003.8,678.3" fill="none" stroke="#ff22ff" stroke-width="1.1" stroke-linejoin="round"/>
<polyline points="16.3,645.0 20.0,644.2 24.2,644.2 28.3,645.0 40.0,645.5 46.7,647.5 55.0,648.8 63.3,647.5 76.7,646.7 88.3,643.8 96.7,642.8 110.0,642.5 116.7,641.7 121.3,640.5 125.0,641.3 130.0,643.3 140.0,645.0 148.3,647.0 156.7,647.2 163.3,646.3 166.7,645.0 171.7,640.8 176.7,637.5 183.0,633.7 188.3,630.0 194.2,626.7 201.7,624.2 209.2,623.0 216.7,619.2 223.3,617.5 229.2,616.7 236.7,611.3 245.0,609.2 249.2,607.2 255.0,607.5 261.7,609.5 268.3,610.8 275.0,611.7 280.0,612.2 286.7,609.5 295.0,603.8 298.3,604.5 303.3,604.5 310.0,606.7 315.0,609.2 318.3,609.7 323.3,605.8 330.0,602.5 337.5,602.2 341.7,603.8 348.0,604.5 355.0,607.5 360.8,608.8 365.0,611.2 370.0,616.2 375.0,620.8 380.0,623.7 385.0,626.3 388.3,627.0 391.7,625.8 395.8,622.2 403.3,619.2 411.7,616.2 419.2,610.0 425.0,607.8 430.8,607.0 436.7,603.3 441.7,601.7 446.7,600.0 453.3,592.8 457.5,591.2 462.5,585.8 469.2,581.7 473.3,575.8 477.2,573.0 481.7,575.8 487.5,578.7 492.5,577.8 496.7,580.8 504.2,587.2 508.3,589.5 513.0,590.8 519.2,593.3 523.3,593.0 527.5,591.3 533.3,599.2 539.2,608.8 545.0,613.7 550.3,617.2 556.7,615.0 562.5,614.5 567.5,616.2 571.7,616.7 577.5,618.7 581.7,624.2 585.8,628.0 589.2,629.2 595.0,635.8 600.8,643.8 605.0,644.7 611.7,650.0 620.0,656.2 624.2,661.7 628.3,662.8 633.3,665.0 639.2,665.3 645.0,663.3 651.7,661.7 657.5,656.7 662.5,650.8 666.3,648.3 670.0,651.3 674.2,650.0 678.0,647.5 683.3,640.0 689.2,632.5 694.2,626.3 699.2,625.5 704.2,625.5 709.2,626.7 714.2,630.8 720.0,633.0 724.2,636.3 727.5,641.7 731.7,646.3 735.8,645.8 740.0,649.5 745.8,651.3 751.7,652.5 756.7,649.2 763.3,646.2 773.3,641.7 780.0,637.5 785.8,634.2 793.3,626.7 799.2,621.7 803.3,618.8 806.7,615.8 810.0,616.7 813.3,619.2 820.8,618.3 825.0,616.2 830.0,611.7 834.2,605.8 837.5,600.0 840.8,595.3 843.0,593.8 845.8,591.7 850.8,590.3 855.0,591.3 860.0,593.7 866.7,595.0 871.7,595.8 875.0,594.2 878.3,596.7 883.3,603.3 890.0,611.7 898.3,623.0 903.3,630.8 908.3,635.8 914.2,639.7 920.8,642.0 926.7,647.0 933.3,650.8 940.0,655.0 946.7,660.8 955.0,666.3 960.8,669.5 964.2,668.3 968.3,670.8 975.0,674.7 980.0,679.2 984.2,681.3 988.3,684.7 991.7,684.2 995.8,683.3 1000.0,681.3 1003.8,678.0" fill="none" stroke="#2222ff" stroke-width="1.1" stroke-linejoin="round"/>
<g shape-rendering="crispEdges">
<rect x="16" y="311" width="1" height="25" fill="#000"/>
<rect x="15" y="312" width="3" height="24" fill="#000"/>
<rect x="16" y="313" width="1" height="22" fill="#2ee62e"/>
<rect x="20" y="316" width="1" height="15" fill="#000"/>
<rect x="19" y="317" width="3" height="6" fill="#000"/>
<rect x="20" y="318" width="1" height="4" fill="#ee3030"/>
<rect x="24" y="324" width="1" height="6" fill="#000"/>
<rect x="23" y="328" width="3" height="2" fill="#000"/>
<rect x="28" y="330" width="1" height="8" fill="#000"/>
<rect x="27" y="330" width="3" height="8" fill="#000"/>
<rect x="28" y="331" width="1" height="6" fill="#ee3030"/>
<rect x="31" y="331" width="1" height="10" fill="#000"/>
<rect x="30" y="334" width="3" height="4" fill="#000"/>
<rect x="31" y="335" width="1" height="2" fill="#2ee62e"/>
<rect x="35" y="334" width="1" height="3" fill="#000"/>
<rect x="34" y="334" width="3" height="1" fill="#000"/>
<rect x="39" y="334" width="1" height="5" fill="#000"/>
<rect x="38" y="336" width="3" height="3" fill="#000"/>
<rect x="39" y="337" width="1" height="1" fill="#2ee62e"/>
<rect x="43" y="336" width="1" height="8" fill="#000"/>
<rect x="42" y="336" width="3" height="8" fill="#000"/>
<rect x="43" y="337" width="1" height="6" fill="#ee3030"/>
<rect x="47" y="342" width="1" height="8" fill="#000"/>
<rect x="46" y="344" width="3" height="1" fill="#000"/>
<rect x="51" y="343" width="1" height="9" fill="#000"/>
<rect x="50" y="344" width="3" height="4" fill="#000"/>
<rect x="51" y="345" width="1" height="2" fill="#ee3030"/>
<rect x="55" y="345" width="1" height="7" fill="#000"/>
<rect x="54" y="345" width="3" height="6" fill="#000"/>
<rect x="55" y="346" width="1" height="4" fill="#ee3030"/>
<rect x="59" y="339" width="1" height="11" fill="#000"/>
<rect x="58" y="342" width="3" height="8" fill="#000"/>
<rect x="59" y="343" width="1" height="6" fill="#2ee62e"/>
<rect x="62" y="336" width="1" height="7" fill="#000"/>
<rect x="61" y="339" width="3" height="1" fill="#000"/>
<rect x="66" y="336" width="1" height="6" fill="#000"/>
<rect x="65" y="336" width="3" height="6" fill="#000"/>
<rect x="66" y="337" width="1" height="4" fill="#ee3030"/>
<rect x="70" y="340" width="1" height="10" fill="#000"/>
<rect x="69" y="340" width="3" height="5" fill="#000"/>
<rect x="70" y="341" width="1" height="3" fill="#ee3030"/>
<rect x="74" y="341" width="1" height="6" fill="#000"/>
<rect x="73" y="345" width="3" height="1" fill="#000"/>
<rect x="78" y="336" width="1" height="9" fill="#000"/>
<rect x="77" y="341" width="3" height="4" fill="#000"/>
<rect x="78" y="342" width="1" height="2" fill="#2ee62e"/>
<rect x="82" y="336" width="1" height="6" fill="#000"/>
<rect x="81" y="337" width="3" height="3" fill="#000"/>
<rect x="82" y="338" width="1" height="1" fill="#ee3030"/>
<rect x="86" y="334" width="1" height="6" fill="#000"/>
<rect x="85" y="339" width="3" height="1" fill="#000"/>
<rect x="89" y="334" width="1" height="8" fill="#000"/>
<rect x="88" y="337" width="3" height="1" fill="#000"/>
<rect x="93" y="333" width="1" height="10" fill="#000"/>
<rect x="92" y="334" width="3" height="9" fill="#000"/>
<rect x="93" y="335" width="1" height="7" fill="#ee3030"/>
<rect x="97" y="336" width="1" height="7" fill="#000"/>
<rect x="96" y="336" width="3" height="3" fill="#000"/>
<rect x="97" y="337" width="1" height="1" fill="#2ee62e"/>
<rect x="101" y="338" width="1" height="5" fill="#000"/>
<rect x="100" y="339" width="3" height="4" fill="#000"/>
<rect x="101" y="340" width="1" height="2" fill="#ee3030"/>
<rect x="105" y="340" width="1" height="4" fill="#000"/>
<rect x="104" y="341" width="3" height="3" fill="#000"/>
<rect x="105" y="342" width="1" height="1" fill="#ee3030"/>
<rect x="109" y="340" width="1" height="3" fill="#000"/>
<rect x="108" y="340" width="3" height="3" fill="#000"/>
<rect x="109" y="341" width="1" height="1" fill="#ee3030"/>
<rect x="113" y="339" width="1" height="5" fill="#000"/>
<rect x="112" y="339" width="3" height="3" fill="#000"/>
<rect x="113" y="340" width="1" height="1" fill="#2ee62e"/>
<rect x="117" y="339" width="1" height="2" fill="#000"/>
<rect x="116" y="339" width="3" height="1" fill="#000"/>
<rect x="120" y="334" width="1" height="11" fill="#000"/>
<rect x="119" y="334" width="3" height="3" fill="#000"/>
<rect x="120" y="335" width="1" height="1" fill="#2ee62e"/>
<rect x="124" y="334" width="1" height="15" fill="#000"/>
<rect x="123" y="334" width="3" height="15" fill="#000"/>
<rect x="124" y="335" width="1" height="13" fill="#ee3030"/>
<rect x="128" y="348" width="1" height="19" fill="#000"/>
<rect x="127" y="350" width="3" height="9" fill="#000"/>
<rect x="128" y="351" width="1" height="7" fill="#ee3030"/>
<rect x="132" y="348" width="1" height="13" fill="#000"/>
<rect x="131" y="351" width="3" height="10" fill="#000"/>
<rect x="132" y="352" width="1" height="8" fill="#2ee62e"/>
<rect x="136" y="347" width="1" height="10" fill="#000"/>
<rect x="135" y="347" width="3" height="10" fill="#000"/>
<rect x="136" y="348" width="1" height="8" fill="#ee3030"/>
<rect x="140" y="356" width="1" height="2" fill="#000"/>
<rect x="139" y="357" width="3" height="1" fill="#000"/>
<rect x="144" y="358" width="1" height="3" fill="#000"/>
<rect x="143" y="358" width="3" height="3" fill="#000"/>
<rect x="144" y="359" width="1" height="1" fill="#ee3030"/>
<rect x="148" y="356" width="1" height="11" fill="#000"/>
<rect x="147" y="356" width="3" height="10" fill="#000"/>
<rect x="148" y="357" width="1" height="8" fill="#ee3030"/>
<rect x="151" y="359" width="1" height="20" fill="#000"/>
<rect x="150" y="362" width="3" height="6" fill="#000"/>
<rect x="151" y="363" width="1" height="4" fill="#2ee62e"/>
<rect x="155" y="359" width="1" height="2" fill="#000"/>
<rect x="154" y="360" width="3" height="1" fill="#000"/>
<rect x="159" y="355" width="1" height="7" fill="#000"/>
<rect x="158" y="357" width="3" height="1" fill="#000"/>
<rect x="163" y="356" width="1" height="7" fill="#000"/>
<rect x="162" y="360" width="3" height="1" fill="#000"/>
<rect x="167" y="341" width="1" height="18" fill="#000"/>
<rect x="166" y="343" width="3" height="16" fill="#000"/>
<rect x="167" y="344" width="1" height="14" fill="#2ee62e"/>
<rect x="171" y="323" width="1" height="24" fill="#000"/>
<rect x="170" y="325" width="3" height="18" fill="#000"/>
<rect x="171" y="326" width="1" height="16" fill="#2ee62e"/>
<rect x="175" y="327" width="1" height="10" fill="#000"/>
<rect x="174" y="329" width="3" height="7" fill="#000"/>
<rect x="175" y="330" width="1" height="5" fill="#ee3030"/>
<rect x="179" y="314" width="1" height="11" fill="#000"/>
<rect x="178" y="319" width="3" height="1" fill="#000"/>
<rect x="182" y="311" width="1" height="12" fill="#000"/>
<rect x="181" y="318" width="3" height="5" fill="#000"/>
<rect x="182" y="319" width="1" height="3" fill="#ee3030"/>
<rect x="186" y="310" width="1" height="11" fill="#000"/>
<rect x="185" y="315" width="3" height="1" fill="#000"/>
<rect x="190" y="310" width="1" height="6" fill="#000"/>
<rect x="189" y="313" width="3" height="2" fill="#000"/>
<rect x="194" y="293" width="1" height="18" fill="#000"/>
<rect x="193" y="306" width="3" height="5" fill="#000"/>
<rect x="194" y="307" width="1" height="3" fill="#2ee62e"/>
<rect x="198" y="306" width="1" height="9" fill="#000"/>
<rect x="197" y="306" width="3" height="3" fill="#000"/>
<rect x="198" y="307" width="1" height="1" fill="#ee3030"/>
<rect x="202" y="302" width="1" height="9" fill="#000"/>
<rect x="201" y="307" width="3" height="1" fill="#000"/>
<rect x="206" y="304" width="1" height="6" fill="#000"/>
<rect x="205" y="306" width="3" height="3" fill="#000"/>
<rect x="206" y="307" width="1" height="1" fill="#ee3030"/>
<rect x="209" y="299" width="1" height="12" fill="#000"/>
<rect x="208" y="301" width="3" height="10" fill="#000"/>
<rect x="209" y="302" width="1" height="8" fill="#2ee62e"/>
<rect x="213" y="284" width="1" height="20" fill="#000"/>
<rect x="212" y="289" width="3" height="15" fill="#000"/>
<rect x="213" y="290" width="1" height="13" fill="#2ee62e"/>
<rect x="217" y="284" width="1" height="8" fill="#000"/>
<rect x="216" y="288" width="3" height="3" fill="#000"/>
<rect x="217" y="289" width="1" height="1" fill="#ee3030"/>
<rect x="221" y="290" width="1" height="13" fill="#000"/>
<rect x="220" y="290" width="3" height="1" fill="#000"/>
<rect x="225" y="290" width="1" height="3" fill="#000"/>
<rect x="224" y="290" width="3" height="1" fill="#000"/>
<rect x="229" y="281" width="1" height="12" fill="#000"/>
<rect x="228" y="283" width="3" height="10" fill="#000"/>
<rect x="229" y="284" width="1" height="8" fill="#2ee62e"/>
<rect x="233" y="261" width="1" height="25" fill="#000"/>
<rect x="232" y="264" width="3" height="17" fill="#000"/>
<rect x="233" y="265" width="1" height="15" fill="#2ee62e"/>
<rect x="237" y="259" width="1" height="10" fill="#000"/>
<rect x="236" y="260" width="3" height="5" fill="#000"/>
<rect x="237" y="261" width="1" height="3" fill="#ee3030"/>
<rect x="240" y="263" width="1" height="11" fill="#000"/>
<rect x="239" y="265" width="3" height="2" fill="#000"/>
<rect x="244" y="260" width="1" height="7" fill="#000"/>
<rect x="243" y="262" width="3" height="1" fill="#000"/>
<rect x="248" y="250" width="1" height="11" fill="#000"/>
<rect x="247" y="252" width="3" height="9" fill="#000"/>
<rect x="248" y="253" width="1" height="7" fill="#2ee62e"/>
<rect x="252" y="248" width="1" height="15" fill="#000"/>
<rect x="251" y="248" width="3" height="14" fill="#000"/>
<rect x="252" y="249" width="1" height="12" fill="#ee3030"/>
<rect x="256" y="255" width="1" height="11" fill="#000"/>
<rect x="255" y="262" width="3" height="1" fill="#000"/>
<rect x="260" y="258" width="1" height="8" fill="#000"/>
<rect x="259" y="262" width="3" height="3" fill="#000"/>
<rect x="260" y="263" width="1" height="1" fill="#ee3030"/>
<rect x="264" y="260" width="1" height="7" fill="#000"/>
<rect x="263" y="261" width="3" height="4" fill="#000"/>
<rect x="264" y="262" width="1" height="2" fill="#ee3030"/>
<rect x="268" y="258" width="1" height="7" fill="#000"/>
<rect x="267" y="260" width="3" height="2" fill="#000"/>
<rect x="271" y="254" width="1" height="9" fill="#000"/>
<rect x="270" y="256" width="3" height="6" fill="#000"/>
<rect x="271" y="257" width="1" height="4" fill="#2ee62e"/>
<rect x="275" y="254" width="1" height="8" fill="#000"/>
<rect x="274" y="254" width="3" height="5" fill="#000"/>
<rect x="275" y="255" width="1" height="3" fill="#ee3030"/>
<rect x="279" y="252" width="1" height="8" fill="#000"/>
<rect x="278" y="255" width="3" height="4" fill="#000"/>
<rect x="279" y="256" width="1" height="2" fill="#2ee62e"/>
<rect x="283" y="240" width="1" height="16" fill="#000"/>
<rect x="282" y="240" width="3" height="13" fill="#000"/>
<rect x="283" y="241" width="1" height="11" fill="#2ee62e"/>
<rect x="287" y="230" width="1" height="10" fill="#000"/>
<rect x="286" y="233" width="3" height="5" fill="#000"/>
<rect x="287" y="234" width="1" height="3" fill="#2ee62e"/>
<rect x="291" y="211" width="1" height="19" fill="#000"/>
<rect x="290" y="221" width="3" height="1" fill="#000"/>
<rect x="295" y="214" width="1" height="8" fill="#000"/>
<rect x="294" y="217" width="3" height="3" fill="#000"/>
<rect x="295" y="218" width="1" height="1" fill="#2ee62e"/>
<rect x="299" y="219" width="1" height="16" fill="#000"/>
<rect x="298" y="219" width="3" height="12" fill="#000"/>
<rect x="299" y="220" width="1" height="10" fill="#ee3030"/>
<rect x="302" y="222" width="1" height="10" fill="#000"/>
<rect x="301" y="225" width="3" height="4" fill="#000"/>
<rect x="302" y="226" width="1" height="2" fill="#2ee62e"/>
<rect x="306" y="221" width="1" height="14" fill="#000"/>
<rect x="305" y="223" width="3" height="8" fill="#000"/>
<rect x="306" y="224" width="1" height="6" fill="#ee3030"/>
<rect x="310" y="229" width="1" height="6" fill="#000"/>
<rect x="309" y="229" width="3" height="3" fill="#000"/>
<rect x="310" y="230" width="1" height="1" fill="#ee3030"/>
<rect x="314" y="229" width="1" height="21" fill="#000"/>
<rect x="313" y="229" width="3" height="11" fill="#000"/>
<rect x="314" y="230" width="1" height="9" fill="#ee3030"/>
<rect x="318" y="226" width="1" height="17" fill="#000"/>
<rect x="317" y="227" width="3" height="10" fill="#000"/>
<rect x="318" y="228" width="1" height="8" fill="#2ee62e"/>
<rect x="322" y="202" width="1" height="25" fill="#000"/>
<rect x="321" y="202" width="3" height="25" fill="#000"/>
<rect x="322" y="203" width="1" height="23" fill="#2ee62e"/>
<rect x="326" y="197" width="1" height="13" fill="#000"/>
<rect x="325" y="199" width="3" height="5" fill="#000"/>
<rect x="326" y="200" width="1" height="3" fill="#2ee62e"/>
<rect x="329" y="190" width="1" height="21" fill="#000"/>
<rect x="328" y="198" width="3" height="1" fill="#000"/>
<rect x="333" y="201" width="1" height="6" fill="#000"/>
<rect x="332" y="201" width="3" height="3" fill="#000"/>
<rect x="333" y="202" width="1" height="1" fill="#ee3030"/>
<rect x="337" y="190" width="1" height="15" fill="#000"/>
<rect x="336" y="201" width="3" height="3" fill="#000"/>
<rect x="337" y="202" width="1" height="1" fill="#2ee62e"/>
<rect x="341" y="199" width="1" height="23" fill="#000"/>
<rect x="340" y="200" width="3" height="8" fill="#000"/>
<rect x="341" y="201" width="1" height="6" fill="#ee3030"/>
<rect x="345" y="196" width="1" height="14" fill="#000"/>
<rect x="344" y="201" width="3" height="3" fill="#000"/>
<rect x="345" y="202" width="1" height="1" fill="#2ee62e"/>
<rect x="349" y="196" width="1" height="6" fill="#000"/>
<rect x="348" y="198" width="3" height="2" fill="#000"/>
<rect x="353" y="197" width="1" height="13" fill="#000"/>
<rect x="352" y="198" width="3" height="9" fill="#000"/>
<rect x="353" y="199" width="1" height="7" fill="#ee3030"/>
<rect x="357" y="196" width="1" height="8" fill="#000"/>
<rect x="356" y="201" width="3" height="3" fill="#000"/>
<rect x="357" y="202" width="1" height="1" fill="#ee3030"/>
<rect x="360" y="199" width="1" height="8" fill="#000"/>
<rect x="359" y="199" width="3" height="3" fill="#000"/>
<rect x="360" y="200" width="1" height="1" fill="#ee3030"/>
<rect x="364" y="201" width="1" height="9" fill="#000"/>
<rect x="363" y="201" width="3" height="6" fill="#000"/>
<rect x="364" y="202" width="1" height="4" fill="#ee3030"/>
<rect x="368" y="199" width="1" height="23" fill="#000"/>
<rect x="367" y="202" width="3" height="17" fill="#000"/>
<rect x="368" y="203" width="1" height="15" fill="#ee3030"/>
<rect x="372" y="217" width="1" height="14" fill="#000"/>
<rect x="371" y="221" width="3" height="5" fill="#000"/>
<rect x="372" y="222" width="1" height="3" fill="#ee3030"/>
<rect x="376" y="210" width="1" height="16" fill="#000"/>
<rect x="375" y="220" width="3" height="6" fill="#000"/>
<rect x="376" y="221" width="1" height="4" fill="#2ee62e"/>
<rect x="380" y="212" width="1" height="10" fill="#000"/>
<rect x="379" y="216" width="3" height="4" fill="#000"/>
<rect x="380" y="217" width="1" height="2" fill="#ee3030"/>
<rect x="384" y="217" width="1" height="12" fill="#000"/>
<rect x="383" y="217" width="3" height="6" fill="#000"/>
<rect x="384" y="218" width="1" height="4" fill="#ee3030"/>
<rect x="388" y="214" width="1" height="10" fill="#000"/>
<rect x="387" y="214" width="3" height="10" fill="#000"/>
<rect x="388" y="215" width="1" height="8" fill="#2ee62e"/>
<rect x="391" y="193" width="1" height="23" fill="#000"/>
<rect x="390" y="203" width="3" height="8" fill="#000"/>
<rect x="391" y="204" width="1" height="6" fill="#2ee62e"/>
<rect x="395" y="183" width="1" height="20" fill="#000"/>
<rect x="394" y="183" width="3" height="18" fill="#000"/>
<rect x="395" y="184" width="1" height="16" fill="#2ee62e"/>
<rect x="399" y="174" width="1" height="15" fill="#000"/>
<rect x="398" y="184" width="3" height="5" fill="#000"/>
<rect x="399" y="185" width="1" height="3" fill="#ee3030"/>
<rect x="403" y="179" width="1" height="19" fill="#000"/>
<rect x="402" y="184" width="3" height="5" fill="#000"/>
<rect x="403" y="185" width="1" height="3" fill="#ee3030"/>
<rect x="407" y="183" width="1" height="9" fill="#000"/>
<rect x="406" y="184" width="3" height="5" fill="#000"/>
<rect x="407" y="185" width="1" height="3" fill="#2ee62e"/>
<rect x="411" y="181" width="1" height="6" fill="#000"/>
<rect x="410" y="182" width="3" height="2" fill="#000"/>
<rect x="415" y="164" width="1" height="19" fill="#000"/>
<rect x="414" y="167" width="3" height="15" fill="#000"/>
<rect x="415" y="168" width="1" height="13" fill="#2ee62e"/>
<rect x="419" y="156" width="1" height="15" fill="#000"/>
<rect x="418" y="163" width="3" height="2" fill="#000"/>
<rect x="422" y="157" width="1" height="12" fill="#000"/>
<rect x="421" y="159" width="3" height="8" fill="#000"/>
<rect x="422" y="160" width="1" height="6" fill="#ee3030"/>
<rect x="426" y="164" width="1" height="10" fill="#000"/>
<rect x="425" y="167" width="3" height="7" fill="#000"/>
<rect x="426" y="168" width="1" height="5" fill="#2ee62e"/>
<rect x="430" y="165" width="1" height="14" fill="#000"/>
<rect x="429" y="165" width="3" height="3" fill="#000"/>
<rect x="430" y="166" width="1" height="1" fill="#2ee62e"/>
<rect x="434" y="147" width="1" height="19" fill="#000"/>
<rect x="433" y="150" width="3" height="12" fill="#000"/>
<rect x="434" y="151" width="1" height="10" fill="#2ee62e"/>
<rect x="438" y="147" width="1" height="8" fill="#000"/>
<rect x="437" y="151" width="3" height="1" fill="#000"/>
<rect x="442" y="147" width="1" height="11" fill="#000"/>
<rect x="441" y="149" width="3" height="1" fill="#000"/>
<rect x="446" y="142" width="1" height="10" fill="#000"/>
<rect x="445" y="144" width="3" height="5" fill="#000"/>
<rect x="446" y="145" width="1" height="3" fill="#2ee62e"/>
<rect x="449" y="125" width="1" height="19" fill="#000"/>
<rect x="448" y="129" width="3" height="15" fill="#000"/>
<rect x="449" y="130" width="1" height="13" fill="#2ee62e"/>
<rect x="453" y="114" width="1" height="17" fill="#000"/>
<rect x="452" y="119" width="3" height="4" fill="#000"/>
<rect x="453" y="120" width="1" height="2" fill="#2ee62e"/>
<rect x="457" y="119" width="1" height="9" fill="#000"/>
<rect x="456" y="122" width="3" height="3" fill="#000"/>
<rect x="457" y="123" width="1" height="1" fill="#ee3030"/>
<rect x="461" y="104" width="1" height="23" fill="#000"/>
<rect x="460" y="104" width="3" height="22" fill="#000"/>
<rect x="461" y="105" width="1" height="20" fill="#2ee62e"/>
<rect x="465" y="101" width="1" height="26" fill="#000"/>
<rect x="464" y="103" width="3" height="5" fill="#000"/>
<rect x="465" y="104" width="1" height="3" fill="#ee3030"/>
<rect x="469" y="104" width="1" height="7" fill="#000"/>
<rect x="468" y="104" width="3" height="3" fill="#000"/>
<rect x="469" y="105" width="1" height="1" fill="#2ee62e"/>
<rect x="473" y="78" width="1" height="22" fill="#000"/>
<rect x="472" y="79" width="3" height="21" fill="#000"/>
<rect x="473" y="80" width="1" height="19" fill="#2ee62e"/>
<rect x="477" y="75" width="1" height="23" fill="#000"/>
<rect x="476" y="79" width="3" height="10" fill="#000"/>
<rect x="477" y="80" width="1" height="8" fill="#ee3030"/>
<rect x="480" y="84" width="1" height="26" fill="#000"/>
<rect x="479" y="85" width="3" height="19" fill="#000"/>
<rect x="480" y="86" width="1" height="17" fill="#ee3030"/>
<rect x="484" y="99" width="1" height="11" fill="#000"/>
<rect x="483" y="103" width="3" height="4" fill="#000"/>
<rect x="484" y="104" width="1" height="2" fill="#2ee62e"/>
<rect x="488" y="91" width="1" height="15" fill="#000"/>
<rect x="487" y="96" width="3" height="8" fill="#000"/>
<rect x="488" y="97" width="1" height="6" fill="#2ee62e"/>
<rect x="492" y="82" width="1" height="15" fill="#000"/>
<rect x="491" y="84" width="3" height="12" fill="#000"/>
<rect x="492" y="85" width="1" height="10" fill="#2ee62e"/>
<rect x="496" y="84" width="1" height="21" fill="#000"/>
<rect x="495" y="84" width="3" height="12" fill="#000"/>
<rect x="496" y="85" width="1" height="10" fill="#ee3030"/>
<rect x="500" y="95" width="1" height="15" fill="#000"/>
<rect x="499" y="95" width="3" height="7" fill="#000"/>
<rect x="500" y="96" width="1" height="5" fill="#ee3030"/>
<rect x="504" y="92" width="1" height="12" fill="#000"/>
<rect x="503" y="100" width="3" height="1" fill="#000"/>
<rect x="508" y="91" width="1" height="12" fill="#000"/>
<rect x="507" y="94" width="3" height="9" fill="#000"/>
<rect x="508" y="95" width="1" height="7" fill="#2ee62e"/>
<rect x="511" y="90" width="1" height="10" fill="#000"/>
<rect x="510" y="90" width="3" height="6" fill="#000"/>
<rect x="511" y="91" width="1" height="4" fill="#2ee62e"/>
<rect x="515" y="90" width="1" height="8" fill="#000"/>
<rect x="514" y="91" width="3" height="3" fill="#000"/>
<rect x="515" y="92" width="1" height="1" fill="#ee3030"/>
<rect x="519" y="89" width="1" height="5" fill="#000"/>
<rect x="518" y="89" width="3" height="3" fill="#000"/>
<rect x="519" y="90" width="1" height="1" fill="#2ee62e"/>
<rect x="523" y="80" width="1" height="8" fill="#000"/>
<rect x="522" y="80" width="3" height="8" fill="#000"/>
<rect x="523" y="81" width="1" height="6" fill="#2ee62e"/>
<rect x="527" y="69" width="1" height="14" fill="#000"/>
<rect x="526" y="69" width="3" height="14" fill="#000"/>
<rect x="527" y="70" width="1" height="12" fill="#2ee62e"/>
<rect x="531" y="66" width="1" height="32" fill="#000"/>
<rect x="530" y="66" width="3" height="28" fill="#000"/>
<rect x="531" y="67" width="1" height="26" fill="#ee3030"/>
<rect x="535" y="89" width="1" height="54" fill="#000"/>
<rect x="534" y="91" width="3" height="13" fill="#000"/>
<rect x="535" y="92" width="1" height="11" fill="#ee3030"/>
<rect x="539" y="105" width="1" height="20" fill="#000"/>
<rect x="538" y="105" width="3" height="14" fill="#000"/>
<rect x="539" y="106" width="1" height="12" fill="#ee3030"/>
<rect x="542" y="93" width="1" height="25" fill="#000"/>
<rect x="541" y="102" width="3" height="13" fill="#000"/>
<rect x="542" y="103" width="1" height="11" fill="#2ee62e"/>
<rect x="546" y="102" width="1" height="12" fill="#000"/>
<rect x="545" y="103" width="3" height="4" fill="#000"/>
<rect x="546" y="104" width="1" height="2" fill="#2ee62e"/>
<rect x="550" y="102" width="1" height="4" fill="#000"/>
<rect x="549" y="102" width="3" height="3" fill="#000"/>
<rect x="550" y="103" width="1" height="1" fill="#2ee62e"/>
<rect x="554" y="78" width="1" height="25" fill="#000"/>
<rect x="553" y="84" width="3" height="19" fill="#000"/>
<rect x="554" y="85" width="1" height="17" fill="#2ee62e"/>
<rect x="558" y="83" width="1" height="10" fill="#000"/>
<rect x="557" y="83" width="3" height="2" fill="#000"/>
<rect x="562" y="83" width="1" height="14" fill="#000"/>
<rect x="561" y="83" width="3" height="2" fill="#000"/>
<rect x="566" y="89" width="1" height="5" fill="#000"/>
<rect x="565" y="89" width="3" height="3" fill="#000"/>
<rect x="566" y="90" width="1" height="1" fill="#ee3030"/>
<rect x="570" y="83" width="1" height="14" fill="#000"/>
<rect x="569" y="89" width="3" height="3" fill="#000"/>
<rect x="570" y="90" width="1" height="1" fill="#2ee62e"/>
<rect x="573" y="75" width="1" height="17" fill="#000"/>
<rect x="572" y="90" width="3" height="1" fill="#000"/>
<rect x="577" y="89" width="1" height="6" fill="#000"/>
<rect x="576" y="89" width="3" height="1" fill="#000"/>
<rect x="581" y="90" width="1" height="41" fill="#000"/>
<rect x="580" y="90" width="3" height="20" fill="#000"/>
<rect x="581" y="91" width="1" height="18" fill="#ee3030"/>
<rect x="585" y="98" width="1" height="18" fill="#000"/>
<rect x="584" y="103" width="3" height="6" fill="#000"/>
<rect x="585" y="104" width="1" height="4" fill="#ee3030"/>
<rect x="589" y="96" width="1" height="16" fill="#000"/>
<rect x="588" y="102" width="3" height="3" fill="#000"/>
<rect x="589" y="103" width="1" height="1" fill="#2ee62e"/>
<rect x="593" y="102" width="1" height="26" fill="#000"/>
<rect x="592" y="105" width="3" height="11" fill="#000"/>
<rect x="593" y="106" width="1" height="9" fill="#ee3030"/>
<rect x="597" y="121" width="1" height="22" fill="#000"/>
<rect x="596" y="121" width="3" height="3" fill="#000"/>
<rect x="597" y="122" width="1" height="1" fill="#2ee62e"/>
<rect x="600" y="130" width="1" height="17" fill="#000"/>
<rect x="599" y="132" width="3" height="12" fill="#000"/>
<rect x="600" y="133" width="1" height="10" fill="#2ee62e"/>
<rect x="604" y="114" width="1" height="18" fill="#000"/>
<rect x="603" y="114" width="3" height="17" fill="#000"/>
<rect x="604" y="115" width="1" height="15" fill="#2ee62e"/>
<rect x="608" y="116" width="1" height="17" fill="#000"/>
<rect x="607" y="116" width="3" height="12" fill="#000"/>
<rect x="608" y="117" width="1" height="10" fill="#ee3030"/>
<rect x="612" y="123" width="1" height="18" fill="#000"/>
<rect x="611" y="130" width="3" height="4" fill="#000"/>
<rect x="612" y="131" width="1" height="2" fill="#2ee62e"/>
<rect x="616" y="125" width="1" height="15" fill="#000"/>
<rect x="615" y="127" width="3" height="7" fill="#000"/>
<rect x="616" y="128" width="1" height="5" fill="#ee3030"/>
<rect x="620" y="132" width="1" height="10" fill="#000"/>
<rect x="619" y="134" width="3" height="4" fill="#000"/>
<rect x="620" y="135" width="1" height="2" fill="#ee3030"/>
<rect x="624" y="137" width="1" height="32" fill="#000"/>
<rect x="623" y="139" width="3" height="19" fill="#000"/>
<rect x="624" y="140" width="1" height="17" fill="#ee3030"/>
<rect x="628" y="137" width="1" height="17" fill="#000"/>
<rect x="627" y="141" width="3" height="13" fill="#000"/>
<rect x="628" y="142" width="1" height="11" fill="#2ee62e"/>
<rect x="631" y="137" width="1" height="17" fill="#000"/>
<rect x="630" y="141" width="3" height="7" fill="#000"/>
<rect x="631" y="142" width="1" height="5" fill="#ee3030"/>
<rect x="635" y="142" width="1" height="12" fill="#000"/>
<rect x="634" y="142" width="3" height="3" fill="#000"/>
<rect x="635" y="143" width="1" height="1" fill="#ee3030"/>
<rect x="639" y="141" width="1" height="8" fill="#000"/>
<rect x="638" y="144" width="3" height="4" fill="#000"/>
<rect x="639" y="145" width="1" height="2" fill="#2ee62e"/>
<rect x="643" y="130" width="1" height="21" fill="#000"/>
<rect x="642" y="137" width="3" height="9" fill="#000"/>
<rect x="643" y="138" width="1" height="7" fill="#2ee62e"/>
<rect x="647" y="134" width="1" height="15" fill="#000"/>
<rect x="646" y="134" width="3" height="7" fill="#000"/>
<rect x="647" y="135" width="1" height="5" fill="#ee3030"/>
<rect x="651" y="139" width="1" height="7" fill="#000"/>
<rect x="650" y="141" width="3" height="2" fill="#000"/>
<rect x="655" y="123" width="1" height="19" fill="#000"/>
<rect x="654" y="127" width="3" height="15" fill="#000"/>
<rect x="655" y="128" width="1" height="13" fill="#2ee62e"/>
<rect x="659" y="124" width="1" height="13" fill="#000"/>
<rect x="658" y="124" width="3" height="6" fill="#000"/>
<rect x="659" y="125" width="1" height="4" fill="#ee3030"/>
<rect x="662" y="115" width="1" height="18" fill="#000"/>
<rect x="661" y="115" width="3" height="16" fill="#000"/>
<rect x="662" y="116" width="1" height="14" fill="#2ee62e"/>
<rect x="666" y="114" width="1" height="21" fill="#000"/>
<rect x="665" y="114" width="3" height="11" fill="#000"/>
<rect x="666" y="115" width="1" height="9" fill="#ee3030"/>
<rect x="670" y="129" width="1" height="24" fill="#000"/>
<rect x="669" y="129" width="3" height="21" fill="#000"/>
<rect x="670" y="130" width="1" height="19" fill="#ee3030"/>
<rect x="674" y="127" width="1" height="21" fill="#000"/>
<rect x="673" y="131" width="3" height="17" fill="#000"/>
<rect x="674" y="132" width="1" height="15" fill="#2ee62e"/>
<rect x="678" y="118" width="1" height="17" fill="#000"/>
<rect x="677" y="121" width="3" height="6" fill="#000"/>
<rect x="678" y="122" width="1" height="4" fill="#2ee62e"/>
<rect x="682" y="98" width="1" height="20" fill="#000"/>
<rect x="681" y="103" width="3" height="15" fill="#000"/>
<rect x="682" y="104" width="1" height="13" fill="#2ee62e"/>
<rect x="686" y="100" width="1" height="10" fill="#000"/>
<rect x="685" y="101" width="3" height="2" fill="#000"/>
<rect x="690" y="99" width="1" height="9" fill="#000"/>
<rect x="689" y="99" width="3" height="4" fill="#000"/>
<rect x="690" y="100" width="1" height="2" fill="#ee3030"/>
<rect x="693" y="90" width="1" height="9" fill="#000"/>
<rect x="692" y="91" width="3" height="8" fill="#000"/>
<rect x="693" y="92" width="1" height="6" fill="#2ee62e"/>
<rect x="697" y="88" width="1" height="25" fill="#000"/>
<rect x="696" y="92" width="3" height="15" fill="#000"/>
<rect x="697" y="93" width="1" height="13" fill="#ee3030"/>
<rect x="701" y="98" width="1" height="15" fill="#000"/>
<rect x="700" y="110" width="3" height="2" fill="#000"/>
<rect x="705" y="106" width="1" height="8" fill="#000"/>
<rect x="704" y="109" width="3" height="4" fill="#000"/>
<rect x="705" y="110" width="1" height="2" fill="#2ee62e"/>
<rect x="709" y="109" width="1" height="9" fill="#000"/>
<rect x="708" y="109" width="3" height="4" fill="#000"/>
<rect x="709" y="110" width="1" height="2" fill="#ee3030"/>
<rect x="713" y="113" width="1" height="14" fill="#000"/>
<rect x="712" y="115" width="3" height="9" fill="#000"/>
<rect x="713" y="116" width="1" height="7" fill="#ee3030"/>
<rect x="717" y="122" width="1" height="13" fill="#000"/>
<rect x="716" y="122" width="3" height="3" fill="#000"/>
<rect x="717" y="123" width="1" height="1" fill="#2ee62e"/>
<rect x="720" y="119" width="1" height="10" fill="#000"/>
<rect x="719" y="121" width="3" height="1" fill="#000"/>
<rect x="724" y="124" width="1" height="19" fill="#000"/>
<rect x="723" y="124" width="3" height="12" fill="#000"/>
<rect x="724" y="125" width="1" height="10" fill="#ee3030"/>
<rect x="728" y="138" width="1" height="15" fill="#000"/>
<rect x="727" y="138" width="3" height="7" fill="#000"/>
<rect x="728" y="139" width="1" height="5" fill="#ee3030"/>
<rect x="732" y="135" width="1" height="15" fill="#000"/>
<rect x="731" y="142" width="3" height="2" fill="#000"/>
<rect x="736" y="123" width="1" height="20" fill="#000"/>
<rect x="735" y="127" width="3" height="13" fill="#000"/>
<rect x="736" y="128" width="1" height="11" fill="#2ee62e"/>
<rect x="740" y="133" width="1" height="20" fill="#000"/>
<rect x="739" y="133" width="3" height="18" fill="#000"/>
<rect x="740" y="134" width="1" height="16" fill="#ee3030"/>
<rect x="744" y="140" width="1" height="11" fill="#000"/>
<rect x="743" y="140" width="3" height="9" fill="#000"/>
<rect x="744" y="141" width="1" height="7" fill="#2ee62e"/>
<rect x="748" y="137" width="1" height="16" fill="#000"/>
<rect x="747" y="139" width="3" height="3" fill="#000"/>
<rect x="748" y="140" width="1" height="1" fill="#ee3030"/>
<rect x="751" y="118" width="1" height="30" fill="#000"/>
<rect x="750" y="138" width="3" height="3" fill="#000"/>
<rect x="751" y="139" width="1" height="1" fill="#ee3030"/>
<rect x="755" y="127" width="1" height="15" fill="#000"/>
<rect x="754" y="128" width="3" height="11" fill="#000"/>
<rect x="755" y="129" width="1" height="9" fill="#2ee62e"/>
<rect x="759" y="127" width="1" height="7" fill="#000"/>
<rect x="758" y="130" width="3" height="2" fill="#000"/>
<rect x="763" y="116" width="1" height="15" fill="#000"/>
<rect x="762" y="125" width="3" height="5" fill="#000"/>
<rect x="763" y="126" width="1" height="3" fill="#2ee62e"/>
<rect x="767" y="120" width="1" height="11" fill="#000"/>
<rect x="766" y="123" width="3" height="5" fill="#000"/>
<rect x="767" y="124" width="1" height="3" fill="#ee3030"/>
<rect x="771" y="119" width="1" height="17" fill="#000"/>
<rect x="770" y="123" width="3" height="1" fill="#000"/>
<rect x="775" y="117" width="1" height="14" fill="#000"/>
<rect x="774" y="122" width="3" height="4" fill="#000"/>
<rect x="775" y="123" width="1" height="2" fill="#2ee62e"/>
<rect x="779" y="110" width="1" height="15" fill="#000"/>
<rect x="778" y="112" width="3" height="10" fill="#000"/>
<rect x="779" y="113" width="1" height="8" fill="#2ee62e"/>
<rect x="782" y="109" width="1" height="17" fill="#000"/>
<rect x="781" y="112" width="3" height="5" fill="#000"/>
<rect x="782" y="113" width="1" height="3" fill="#ee3030"/>
<rect x="786" y="108" width="1" height="12" fill="#000"/>
<rect x="785" y="109" width="3" height="4" fill="#000"/>
<rect x="786" y="110" width="1" height="2" fill="#2ee62e"/>
<rect x="790" y="91" width="1" height="23" fill="#000"/>
<rect x="789" y="98" width="3" height="16" fill="#000"/>
<rect x="790" y="99" width="1" height="14" fill="#2ee62e"/>
<rect x="794" y="95" width="1" height="9" fill="#000"/>
<rect x="793" y="97" width="3" height="4" fill="#000"/>
<rect x="794" y="98" width="1" height="2" fill="#2ee62e"/>
<rect x="798" y="95" width="1" height="7" fill="#000"/>
<rect x="797" y="95" width="3" height="2" fill="#000"/>
<rect x="802" y="94" width="1" height="12" fill="#000"/>
<rect x="801" y="94" width="3" height="2" fill="#000"/>
<rect x="806" y="87" width="1" height="10" fill="#000"/>
<rect x="805" y="87" width="3" height="7" fill="#000"/>
<rect x="806" y="88" width="1" height="5" fill="#2ee62e"/>
<rect x="810" y="89" width="1" height="27" fill="#000"/>
<rect x="809" y="89" width="3" height="10" fill="#000"/>
<rect x="810" y="90" width="1" height="8" fill="#ee3030"/>
<rect x="813" y="95" width="1" height="17" fill="#000"/>
<rect x="812" y="97" width="3" height="12" fill="#000"/>
<rect x="813" y="98" width="1" height="10" fill="#ee3030"/>
<rect x="817" y="94" width="1" height="19" fill="#000"/>
<rect x="816" y="96" width="3" height="17" fill="#000"/>
<rect x="817" y="97" width="1" height="15" fill="#2ee62e"/>
<rect x="821" y="86" width="1" height="11" fill="#000"/>
<rect x="820" y="94" width="3" height="3" fill="#000"/>
<rect x="821" y="95" width="1" height="1" fill="#ee3030"/>
<rect x="825" y="82" width="1" height="15" fill="#000"/>
<rect x="824" y="84" width="3" height="8" fill="#000"/>
<rect x="825" y="85" width="1" height="6" fill="#2ee62e"/>
<rect x="829" y="65" width="1" height="23" fill="#000"/>
<rect x="828" y="74" width="3" height="14" fill="#000"/>
<rect x="829" y="75" width="1" height="12" fill="#2ee62e"/>
<rect x="833" y="57" width="1" height="19" fill="#000"/>
<rect x="832" y="66" width="3" height="7" fill="#000"/>
<rect x="833" y="67" width="1" height="5" fill="#2ee62e"/>
<rect x="837" y="48" width="1" height="27" fill="#000"/>
<rect x="836" y="48" width="3" height="13" fill="#000"/>
<rect x="837" y="49" width="1" height="11" fill="#2ee62e"/>
<rect x="840" y="47" width="1" height="12" fill="#000"/>
<rect x="839" y="47" width="3" height="2" fill="#000"/>
<rect x="844" y="49" width="1" height="8" fill="#000"/>
<rect x="843" y="49" width="3" height="3" fill="#000"/>
<rect x="844" y="50" width="1" height="1" fill="#ee3030"/>
<rect x="848" y="52" width="1" height="5" fill="#000"/>
<rect x="847" y="52" width="3" height="3" fill="#000"/>
<rect x="848" y="53" width="1" height="1" fill="#2ee62e"/>
<rect x="852" y="51" width="1" height="14" fill="#000"/>
<rect x="851" y="53" width="3" height="2" fill="#000"/>
<rect x="856" y="51" width="1" height="18" fill="#000"/>
<rect x="855" y="53" width="3" height="6" fill="#000"/>
<rect x="856" y="54" width="1" height="4" fill="#ee3030"/>
<rect x="860" y="58" width="1" height="6" fill="#000"/>
<rect x="859" y="59" width="3" height="3" fill="#000"/>
<rect x="860" y="60" width="1" height="1" fill="#2ee62e"/>
<rect x="864" y="52" width="1" height="8" fill="#000"/>
<rect x="863" y="54" width="3" height="5" fill="#000"/>
<rect x="864" y="55" width="1" height="3" fill="#2ee62e"/>
<rect x="868" y="50" width="1" height="8" fill="#000"/>
<rect x="867" y="51" width="3" height="1" fill="#000"/>
<rect x="871" y="49" width="1" height="8" fill="#000"/>
<rect x="870" y="51" width="3" height="2" fill="#000"/>
<rect x="875" y="37" width="1" height="15" fill="#000"/>
<rect x="874" y="40" width="3" height="9" fill="#000"/>
<rect x="875" y="41" width="1" height="7" fill="#2ee62e"/>
<rect x="879" y="43" width="1" height="19" fill="#000"/>
<rect x="878" y="43" width="3" height="17" fill="#000"/>
<rect x="879" y="44" width="1" height="15" fill="#ee3030"/>
<rect x="883" y="53" width="1" height="36" fill="#000"/>
<rect x="882" y="61" width="3" height="8" fill="#000"/>
<rect x="883" y="62" width="1" height="6" fill="#ee3030"/>
<rect x="887" y="58" width="1" height="15" fill="#000"/>
<rect x="886" y="66" width="3" height="3" fill="#000"/>
<rect x="887" y="67" width="1" height="1" fill="#2ee62e"/>
<rect x="891" y="58" width="1" height="16" fill="#000"/>
<rect x="890" y="65" width="3" height="9" fill="#000"/>
<rect x="891" y="66" width="1" height="7" fill="#ee3030"/>
<rect x="895" y="72" width="1" height="14" fill="#000"/>
<rect x="894" y="78" width="3" height="1" fill="#000"/>
<rect x="899" y="75" width="1" height="12" fill="#000"/>
<rect x="898" y="80" width="3" height="4" fill="#000"/>
<rect x="899" y="81" width="1" height="2" fill="#ee3030"/>
<rect x="902" y="82" width="1" height="26" fill="#000"/>
<rect x="901" y="83" width="3" height="12" fill="#000"/>
<rect x="902" y="84" width="1" height="10" fill="#ee3030"/>
<rect x="906" y="83" width="1" height="15" fill="#000"/>
<rect x="905" y="90" width="3" height="2" fill="#000"/>
<rect x="910" y="82" width="1" height="12" fill="#000"/>
<rect x="909" y="84" width="3" height="5" fill="#000"/>
<rect x="910" y="85" width="1" height="3" fill="#2ee62e"/>
<rect x="914" y="81" width="1" height="10" fill="#000"/>
<rect x="913" y="85" width="3" height="2" fill="#000"/>
<rect x="918" y="81" width="1" height="10" fill="#000"/>
<rect x="917" y="84" width="3" height="2" fill="#000"/>
<rect x="922" y="84" width="1" height="9" fill="#000"/>
<rect x="921" y="86" width="3" height="1" fill="#000"/>
<rect x="926" y="83" width="1" height="18" fill="#000"/>
<rect x="925" y="90" width="3" height="9" fill="#000"/>
<rect x="926" y="91" width="1" height="7" fill="#ee3030"/>
<rect x="930" y="93" width="1" height="10" fill="#000"/>
<rect x="929" y="97" width="3" height="3" fill="#000"/>
<rect x="930" y="98" width="1" height="1" fill="#2ee62e"/>
<rect x="933" y="96" width="1" height="8" fill="#000"/>
<rect x="932" y="96" width="3" height="3" fill="#000"/>
<rect x="933" y="97" width="1" height="1" fill="#ee3030"/>
<rect x="937" y="94" width="1" height="14" fill="#000"/>
<rect x="936" y="100" width="3" height="5" fill="#000"/>
<rect x="937" y="101" width="1" height="3" fill="#ee3030"/>
<rect x="941" y="99" width="1" height="9" fill="#000"/>
<rect x="940" y="104" width="3" height="3" fill="#000"/>
<rect x="941" y="105" width="1" height="1" fill="#2ee62e"/>
<rect x="945" y="103" width="1" height="19" fill="#000"/>
<rect x="944" y="106" width="3" height="14" fill="#000"/>
<rect x="945" y="107" width="1" height="12" fill="#ee3030"/>
<rect x="949" y="118" width="1" height="20" fill="#000"/>
<rect x="948" y="118" width="3" height="6" fill="#000"/>
<rect x="949" y="119" width="1" height="4" fill="#2ee62e"/>
<rect x="953" y="117" width="1" height="14" fill="#000"/>
<rect x="952" y="121" width="3" height="7" fill="#000"/>
<rect x="953" y="122" width="1" height="5" fill="#2ee62e"/>
<rect x="957" y="115" width="1" height="11" fill="#000"/>
<rect x="956" y="124" width="3" height="1" fill="#000"/>
<rect x="960" y="124" width="1" height="7" fill="#000"/>
<rect x="959" y="124" width="3" height="5" fill="#000"/>
<rect x="960" y="125" width="1" height="3" fill="#ee3030"/>
<rect x="964" y="112" width="1" height="18" fill="#000"/>
<rect x="963" y="117" width="3" height="13" fill="#000"/>
<rect x="964" y="118" width="1" height="11" fill="#2ee62e"/>
<rect x="968" y="114" width="1" height="22" fill="#000"/>
<rect x="967" y="114" width="3" height="22" fill="#000"/>
<rect x="968" y="115" width="1" height="20" fill="#ee3030"/>
<rect x="972" y="124" width="1" height="14" fill="#000"/>
<rect x="971" y="135" width="3" height="2" fill="#000"/>
<rect x="976" y="131" width="1" height="17" fill="#000"/>
<rect x="975" y="134" width="3" height="11" fill="#000"/>
<rect x="976" y="135" width="1" height="9" fill="#ee3030"/>
<rect x="980" y="145" width="1" height="30" fill="#000"/>
<rect x="979" y="148" width="3" height="17" fill="#000"/>
<rect x="980" y="149" width="1" height="15" fill="#ee3030"/>
<rect x="984" y="150" width="1" height="16" fill="#000"/>
<rect x="983" y="153" width="3" height="11" fill="#000"/>
<rect x="984" y="154" width="1" height="9" fill="#2ee62e"/>
<rect x="988" y="154" width="1" height="14" fill="#000"/>
<rect x="987" y="154" width="3" height="13" fill="#000"/>
<rect x="988" y="155" width="1" height="11" fill="#ee3030"/>
<rect x="991" y="151" width="1" height="8" fill="#000"/>
<rect x="990" y="151" width="3" height="6" fill="#000"/>
<rect x="991" y="152" width="1" height="4" fill="#2ee62e"/>
<rect x="995" y="151" width="1" height="8" fill="#000"/>
<rect x="994" y="151" width="3" height="3" fill="#000"/>
<rect x="995" y="152" width="1" height="1" fill="#ee3030"/>
<rect x="999" y="147" width="1" height="13" fill="#000"/>
<rect x="998" y="148" width="3" height="12" fill="#000"/>
<rect x="999" y="149" width="1" height="10" fill="#2ee62e"/>
<rect x="1003" y="136" width="1" height="14" fill="#000"/>
<rect x="1002" y="139" width="3" height="11" fill="#000"/>
<rect x="1003" y="140" width="1" height="9" fill="#2ee62e"/>
</g>
<rect x="607" y="153" width="409" height="3" fill="#000" shape-rendering="crispEdges"/>
<g fill="#129ee8" shape-rendering="crispEdges">
<rect x="590" y="156" width="3" height="3"/>
<rect x="591" y="156" width="3" height="3"/>
<rect x="591" y="157" width="3" height="3"/>
<rect x="592" y="157" width="3" height="3"/>
<rect x="592" y="158" width="3" height="3"/>
<rect x="593" y="158" width="3" height="3"/>
<rect x="594" y="159" width="3" height="3"/>
<rect x="595" y="159" width="3" height="3"/>
<rect x="595" y="160" width="3" height="3"/>
<rect x="596" y="160" width="3" height="3"/>
<rect x="596" y="161" width="3" height="3"/>
<rect x="597" y="161" width="3" height="3"/>
<rect x="597" y="162" width="3" height="3"/>
<rect x="598" y="162" width="3" height="3"/>
<rect x="598" y="163" width="3" height="3"/>
<rect x="599" y="164" width="3" height="3"/>
<rect x="599" y="165" width="3" height="3"/>
<rect x="600" y="165" width="3" height="3"/>
<rect x="600" y="166" width="3" height="3"/>
<rect x="601" y="167" width="3" height="3"/>
<rect x="601" y="168" width="3" height="3"/>
<rect x="601" y="169" width="3" height="3"/>
<rect x="602" y="169" width="3" height="3"/>
<rect x="602" y="170" width="3" height="3"/>
<rect x="603" y="170" width="3" height="3"/>
<rect x="603" y="171" width="3" height="3"/>
<rect x="604" y="171" width="3" height="3"/>
<rect x="604" y="172" width="3" height="3"/>
<rect x="605" y="172" width="3" height="3"/>
<rect x="605" y="173" width="3" height="3"/>
<rect x="606" y="173" width="3" height="3"/>
<rect x="606" y="174" width="3" height="3"/>
<rect x="607" y="174" width="3" height="3"/>
<rect x="607" y="175" width="3" height="3"/>
<rect x="608" y="175" width="3" height="3"/>
<rect x="608" y="176" width="3" height="3"/>
<rect x="609" y="176" width="3" height="3"/>
<rect x="609" y="177" width="3" height="3"/>
<rect x="610" y="177" width="3" height="3"/>
<rect x="610" y="178" width="3" height="3"/>
<rect x="611" y="178" width="3" height="3"/>
<rect x="611" y="179" width="3" height="3"/>
<rect x="612" y="179" width="3" height="3"/>
<rect x="612" y="180" width="3" height="3"/>
<rect x="613" y="180" width="3" height="3"/>
<rect x="613" y="181" width="3" height="3"/>
<rect x="614" y="181" width="3" height="3"/>
<rect x="614" y="182" width="3" height="3"/>
<rect x="615" y="182" width="3" height="3"/>
<rect x="616" y="183" width="3" height="3"/>
<rect x="617" y="184" width="3" height="3"/>
<rect x="618" y="184" width="3" height="3"/>
<rect x="618" y="185" width="3" height="3"/>
<rect x="619" y="185" width="3" height="3"/>
<rect x="619" y="186" width="3" height="3"/>
<rect x="620" y="186" width="3" height="3"/>
<rect x="620" y="187" width="3" height="3"/>
<rect x="621" y="187" width="3" height="3"/>
<rect x="622" y="188" width="3" height="3"/>
<rect x="623" y="188" width="3" height="3"/>
<rect x="624" y="188" width="3" height="3"/>
<rect x="624" y="189" width="3" height="3"/>
<rect x="625" y="188" width="3" height="3"/>
<rect x="625" y="189" width="3" height="3"/>
<rect x="626" y="186" width="3" height="3"/>
<rect x="626" y="187" width="3" height="3"/>
<rect x="626" y="188" width="3" height="3"/>
<rect x="627" y="185" width="3" height="3"/>
<rect x="627" y="186" width="3" height="3"/>
<rect x="628" y="183" width="3" height="3"/>
<rect x="628" y="184" width="3" height="3"/>
<rect x="629" y="181" width="3" height="3"/>
<rect x="629" y="182" width="3" height="3"/>
<rect x="629" y="183" width="3" height="3"/>
<rect x="630" y="179" width="3" height="3"/>
<rect x="630" y="180" width="3" height="3"/>
<rect x="631" y="176" width="3" height="3"/>
<rect x="631" y="177" width="3" height="3"/>
<rect x="631" y="178" width="3" height="3"/>
<rect x="632" y="174" width="3" height="3"/>
<rect x="632" y="175" width="3" height="3"/>
<rect x="633" y="170" width="3" height="3"/>
<rect x="633" y="171" width="3" height="3"/>
<rect x="633" y="172" width="3" height="3"/>
<rect x="633" y="173" width="3" height="3"/>
<rect x="634" y="169" width="3" height="3"/>
<rect x="634" y="170" width="3" height="3"/>
<rect x="635" y="167" width="3" height="3"/>
<rect x="635" y="168" width="3" height="3"/>
<rect x="635" y="169" width="3" height="3"/>
<rect x="636" y="166" width="3" height="3"/>
<rect x="636" y="167" width="3" height="3"/>
<rect x="637" y="166" width="3" height="3"/>
<rect x="638" y="165" width="3" height="3"/>
<rect x="639" y="164" width="3" height="3"/>
<rect x="640" y="163" width="3" height="3"/>
<rect x="641" y="163" width="3" height="3"/>
<rect x="642" y="162" width="3" height="3"/>
<rect x="643" y="161" width="3" height="3"/>
<rect x="643" y="162" width="3" height="3"/>
</g>
<g fill="#129ee8" shape-rendering="crispEdges">
<rect x="946" y="160" width="3" height="3"/>
<rect x="946" y="161" width="3" height="3"/>
<rect x="947" y="161" width="3" height="3"/>
<rect x="947" y="162" width="3" height="3"/>
<rect x="948" y="162" width="3" height="3"/>
<rect x="948" y="163" width="3" height="3"/>
<rect x="949" y="163" width="3" height="3"/>
<rect x="949" y="164" width="3" height="3"/>
<rect x="950" y="164" width="3" height="3"/>
<rect x="950" y="165" width="3" height="3"/>
<rect x="951" y="165" width="3" height="3"/>
<rect x="952" y="166" width="3" height="3"/>
<rect x="953" y="166" width="3" height="3"/>
<rect x="953" y="167" width="3" height="3"/>
<rect x="954" y="167" width="3" height="3"/>
<rect x="955" y="168" width="3" height="3"/>
<rect x="956" y="169" width="3" height="3"/>
<rect x="956" y="170" width="3" height="3"/>
<rect x="957" y="171" width="3" height="3"/>
<rect x="957" y="172" width="3" height="3"/>
<rect x="958" y="172" width="3" height="3"/>
<rect x="958" y="173" width="3" height="3"/>
<rect x="959" y="174" width="3" height="3"/>
<rect x="959" y="175" width="3" height="3"/>
<rect x="960" y="176" width="3" height="3"/>
<rect x="960" y="177" width="3" height="3"/>
<rect x="961" y="177" width="3" height="3"/>
<rect x="962" y="178" width="3" height="3"/>
<rect x="963" y="178" width="3" height="3"/>
<rect x="964" y="179" width="3" height="3"/>
<rect x="965" y="179" width="3" height="3"/>
<rect x="965" y="180" width="3" height="3"/>
<rect x="966" y="180" width="3" height="3"/>
<rect x="967" y="181" width="3" height="3"/>
<rect x="968" y="181" width="3" height="3"/>
<rect x="968" y="182" width="3" height="3"/>
<rect x="969" y="182" width="3" height="3"/>
<rect x="970" y="183" width="3" height="3"/>
<rect x="971" y="183" width="3" height="3"/>
<rect x="972" y="183" width="3" height="3"/>
<rect x="973" y="183" width="3" height="3"/>
<rect x="974" y="183" width="3" height="3"/>
<rect x="974" y="184" width="3" height="3"/>
<rect x="975" y="184" width="3" height="3"/>
<rect x="976" y="184" width="3" height="3"/>
<rect x="976" y="185" width="3" height="3"/>
<rect x="977" y="185" width="3" height="3"/>
<rect x="978" y="185" width="3" height="3"/>
<rect x="978" y="186" width="3" height="3"/>
<rect x="979" y="186" width="3" height="3"/>
<rect x="979" y="187" width="3" height="3"/>
<rect x="980" y="187" width="3" height="3"/>
<rect x="981" y="188" width="3" height="3"/>
<rect x="981" y="189" width="3" height="3"/>
<rect x="982" y="189" width="3" height="3"/>
<rect x="983" y="189" width="3" height="3"/>
<rect x="984" y="189" width="3" height="3"/>
<rect x="985" y="189" width="3" height="3"/>
<rect x="986" y="189" width="3" height="3"/>
<rect x="987" y="187" width="3" height="3"/>
<rect x="987" y="188" width="3" height="3"/>
<rect x="988" y="187" width="3" height="3"/>
<rect x="989" y="185" width="3" height="3"/>
<rect x="989" y="186" width="3" height="3"/>
<rect x="990" y="183" width="3" height="3"/>
<rect x="990" y="184" width="3" height="3"/>
<rect x="990" y="185" width="3" height="3"/>
<rect x="991" y="180" width="3" height="3"/>
<rect x="991" y="181" width="3" height="3"/>
<rect x="991" y="182" width="3" height="3"/>
<rect x="991" y="183" width="3" height="3"/>
<rect x="992" y="175" width="3" height="3"/>
<rect x="992" y="176" width="3" height="3"/>
<rect x="992" y="177" width="3" height="3"/>
<rect x="992" y="178" width="3" height="3"/>
<rect x="992" y="179" width="3" height="3"/>
<rect x="992" y="180" width="3" height="3"/>
<rect x="993" y="172" width="3" height="3"/>
<rect x="993" y="173" width="3" height="3"/>
<rect x="993" y="174" width="3" height="3"/>
<rect x="994" y="171" width="3" height="3"/>
<rect x="994" y="172" width="3" height="3"/>
<rect x="995" y="169" width="3" height="3"/>
<rect x="995" y="170" width="3" height="3"/>
<rect x="996" y="167" width="3" height="3"/>
<rect x="996" y="168" width="3" height="3"/>
<rect x="997" y="165" width="3" height="3"/>
<rect x="997" y="166" width="3" height="3"/>
<rect x="998" y="164" width="3" height="3"/>
<rect x="998" y="165" width="3" height="3"/>
<rect x="999" y="162" width="3" height="3"/>
<rect x="999" y="163" width="3" height="3"/>
<rect x="1000" y="161" width="3" height="3"/>
</g>
<ellipse cx="1003.05" cy="677.95" rx="23.45" ry="28.35" fill="none" stroke="#000" stroke-width="3" shape-rendering="crispEdges"/>
</svg>
</body></html>
